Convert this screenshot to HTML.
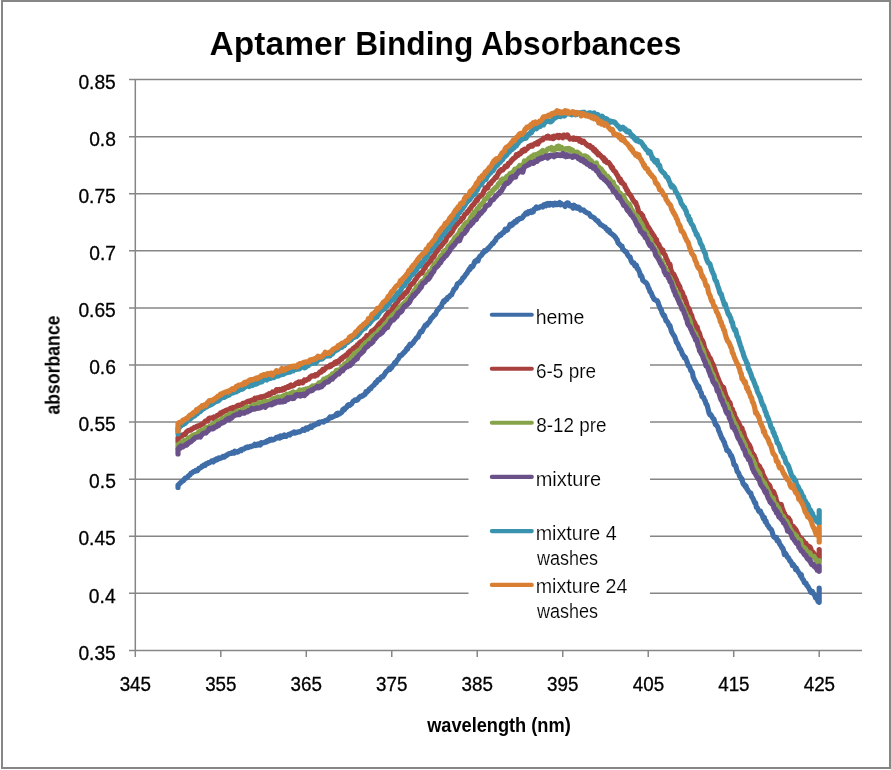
<!DOCTYPE html>
<html><head><meta charset="utf-8"><style>
html,body{margin:0;padding:0;background:#fff;}
body{width:891px;height:770px;overflow:hidden;}
svg{display:block;}
text{font-family:"Liberation Sans",sans-serif;fill:#000;}
.t{filter:grayscale(1);}
.t text{stroke:none;}
.lg text{stroke:#fff;stroke-width:0.15px;}
.ax text{stroke:#000;stroke-width:0.3px;}
.t text.ttl{stroke:#fff;stroke-width:0.6px;}
.t text[font-weight="bold"]{stroke-width:0.1px;}
</style></head><body>
<svg width="891" height="770" viewBox="0 0 891 770">
<rect x="0" y="0" width="891" height="770" fill="#fff"/>
<rect x="2" y="1" width="888" height="767" fill="#fff" stroke="#868686" stroke-width="2"/>
<g stroke="#868686" stroke-width="1.5">
<line x1="129" y1="79.60" x2="862" y2="79.60"/>
<line x1="129" y1="136.68" x2="862" y2="136.68"/>
<line x1="129" y1="193.76" x2="862" y2="193.76"/>
<line x1="129" y1="250.84" x2="862" y2="250.84"/>
<line x1="129" y1="307.92" x2="862" y2="307.92"/>
<line x1="129" y1="365.00" x2="862" y2="365.00"/>
<line x1="129" y1="422.08" x2="862" y2="422.08"/>
<line x1="129" y1="479.16" x2="862" y2="479.16"/>
<line x1="129" y1="536.24" x2="862" y2="536.24"/>
<line x1="129" y1="593.32" x2="862" y2="593.32"/>
<line x1="135.3" y1="79.6" x2="135.3" y2="651.1"/>
<line x1="129" y1="650.4" x2="862" y2="650.4"/>
<line x1="135.30" y1="650.4" x2="135.30" y2="657"/>
<line x1="220.79" y1="650.4" x2="220.79" y2="657"/>
<line x1="306.28" y1="650.4" x2="306.28" y2="657"/>
<line x1="391.76" y1="650.4" x2="391.76" y2="657"/>
<line x1="477.25" y1="650.4" x2="477.25" y2="657"/>
<line x1="562.74" y1="650.4" x2="562.74" y2="657"/>
<line x1="648.23" y1="650.4" x2="648.23" y2="657"/>
<line x1="733.71" y1="650.4" x2="733.71" y2="657"/>
<line x1="819.20" y1="650.4" x2="819.20" y2="657"/>
</g>
<rect x="468.5" y="283" width="181.5" height="345" fill="#fff"/>
<g fill="none" stroke-width="5.2" stroke-linejoin="round" stroke-linecap="round">
<path d="M178.0 487.5 L178.0 485.1 L178.8 484.5 L179.6 483.7 L180.4 482.8 L181.2 482.3 L182.0 481.4 L182.8 480.7 L183.6 480.6 L184.4 479.0 L185.2 478.2 L186.0 478.1 L186.8 477.7 L187.6 477.1 L188.4 475.7 L189.2 475.5 L190.0 474.9 L190.8 473.3 L191.6 473.3 L192.4 472.4 L193.2 472.0 L194.0 471.3 L194.8 471.5 L195.6 470.5 L196.4 471.0 L197.2 470.8 L198.0 470.0 L198.8 468.4 L199.6 468.4 L200.4 467.9 L201.2 467.4 L202.0 466.2 L202.8 466.3 L203.6 465.3 L204.4 465.0 L205.2 465.4 L206.0 463.7 L206.8 463.5 L207.6 463.6 L208.4 462.6 L209.2 462.8 L210.0 462.4 L210.8 461.9 L211.6 461.0 L212.4 461.4 L213.2 461.9 L214.0 460.1 L214.8 460.8 L215.6 459.9 L216.4 458.9 L217.2 459.8 L218.0 459.0 L218.8 457.9 L219.6 458.5 L220.4 458.5 L221.2 457.7 L222.0 457.6 L222.8 456.6 L223.6 457.2 L224.4 457.2 L225.2 455.9 L226.0 456.0 L226.8 454.9 L227.6 455.0 L228.4 454.0 L229.2 453.7 L230.0 453.4 L230.8 453.4 L231.6 453.4 L232.4 452.4 L233.2 452.5 L234.0 453.1 L234.8 451.2 L235.6 451.6 L236.4 451.8 L237.2 452.2 L238.0 451.9 L238.8 451.0 L239.6 450.6 L240.4 450.0 L241.2 450.6 L242.0 449.4 L242.8 449.0 L243.6 449.1 L244.4 448.7 L245.2 448.2 L246.0 447.4 L246.8 447.7 L247.6 446.9 L248.4 447.5 L249.2 447.1 L250.0 446.4 L250.8 446.6 L251.6 446.0 L252.4 446.1 L253.2 445.5 L254.0 445.4 L254.8 444.3 L255.6 445.5 L256.4 444.6 L257.2 444.3 L258.0 444.9 L258.8 443.9 L259.6 443.8 L260.4 444.9 L261.2 442.7 L262.0 442.8 L262.8 442.9 L263.6 442.8 L264.4 442.5 L265.2 441.9 L266.0 442.2 L266.8 441.7 L267.6 440.6 L268.4 441.1 L269.2 440.8 L270.0 439.4 L270.8 440.0 L271.6 439.2 L272.4 440.1 L273.2 439.9 L274.0 439.6 L274.8 438.8 L275.6 438.6 L276.4 437.3 L277.2 437.6 L278.0 437.9 L278.8 436.8 L279.6 438.0 L280.4 435.9 L281.2 437.5 L282.0 436.2 L282.8 436.6 L283.6 436.2 L284.4 435.0 L285.2 436.5 L286.0 436.5 L286.8 435.6 L287.6 435.2 L288.4 434.7 L289.2 434.1 L290.0 434.9 L290.8 433.5 L291.6 433.5 L292.4 432.8 L293.2 432.7 L294.0 432.0 L294.8 433.1 L295.6 432.3 L296.4 432.7 L297.2 432.2 L298.0 431.9 L298.8 431.7 L299.6 431.8 L300.4 431.4 L301.2 430.9 L302.0 430.4 L302.8 429.5 L303.6 430.0 L304.4 430.4 L305.2 428.8 L306.0 428.0 L306.8 428.3 L307.6 429.1 L308.4 427.5 L309.2 427.8 L310.0 427.2 L310.8 426.1 L311.6 427.3 L312.4 426.0 L313.2 425.7 L314.0 424.8 L314.8 425.1 L315.6 424.6 L316.4 424.2 L317.2 423.6 L318.0 422.8 L318.8 423.6 L319.6 422.1 L320.4 422.1 L321.2 421.9 L322.0 421.7 L322.8 421.6 L323.6 422.1 L324.4 421.1 L325.2 420.5 L326.0 420.4 L326.8 420.6 L327.6 419.8 L328.4 419.2 L329.2 418.1 L330.0 417.0 L330.8 417.8 L331.6 417.6 L332.4 416.5 L333.2 416.5 L334.0 416.2 L334.8 415.7 L335.6 415.4 L336.4 414.0 L337.2 415.2 L338.0 413.2 L338.8 414.2 L339.6 413.8 L340.4 413.0 L341.2 412.8 L342.0 411.8 L342.8 409.6 L343.6 409.0 L344.4 409.9 L345.2 407.8 L346.0 407.8 L346.8 407.2 L347.6 405.4 L348.4 404.8 L349.2 405.5 L350.0 405.2 L350.8 404.4 L351.6 403.8 L352.4 402.5 L353.2 401.3 L354.0 401.0 L354.8 400.0 L355.6 399.8 L356.4 400.3 L357.2 400.0 L358.0 399.5 L358.8 397.8 L359.6 397.5 L360.4 396.4 L361.2 396.3 L362.0 396.5 L362.8 395.4 L363.6 395.4 L364.4 394.3 L365.2 394.3 L366.0 391.6 L366.8 392.3 L367.6 391.2 L368.4 390.8 L369.2 388.9 L370.0 388.4 L370.8 388.6 L371.6 386.9 L372.4 386.5 L373.2 385.5 L374.0 385.1 L374.8 383.7 L375.6 382.4 L376.4 382.8 L377.2 381.3 L378.0 379.6 L378.8 379.7 L379.6 379.9 L380.4 378.4 L381.2 376.9 L382.0 376.6 L382.8 376.9 L383.6 375.6 L384.4 374.6 L385.2 373.1 L386.0 372.0 L386.8 371.1 L387.6 370.6 L388.4 369.7 L389.2 368.4 L390.0 369.4 L390.8 367.9 L391.6 367.9 L392.4 365.8 L393.2 365.4 L394.0 364.1 L394.8 362.5 L395.6 363.1 L396.4 361.4 L397.2 359.9 L398.0 359.4 L398.8 358.0 L399.6 355.6 L400.4 356.0 L401.2 355.5 L402.0 354.9 L402.8 353.3 L403.6 353.2 L404.4 351.8 L405.2 351.6 L406.0 350.0 L406.8 348.6 L407.6 349.1 L408.4 346.7 L409.2 345.8 L410.0 344.2 L410.8 345.3 L411.6 344.0 L412.4 343.6 L413.2 342.9 L414.0 341.1 L414.8 340.4 L415.6 339.3 L416.4 338.0 L417.2 337.5 L418.0 337.3 L418.8 335.0 L419.6 333.4 L420.4 331.9 L421.2 331.1 L422.0 331.5 L422.8 329.8 L423.6 328.3 L424.4 326.9 L425.2 325.3 L426.0 325.0 L426.8 325.1 L427.6 323.4 L428.4 322.8 L429.2 321.9 L430.0 320.9 L430.8 318.7 L431.6 318.3 L432.4 317.0 L433.2 316.7 L434.0 315.1 L434.8 314.9 L435.6 314.1 L436.4 312.1 L437.2 310.4 L438.0 309.9 L438.8 308.8 L439.6 307.5 L440.4 307.3 L441.2 306.7 L442.0 304.2 L442.8 302.5 L443.6 301.1 L444.4 301.7 L445.2 300.0 L446.0 299.3 L446.8 299.5 L447.6 297.3 L448.4 297.4 L449.2 297.0 L450.0 295.6 L450.8 295.0 L451.6 295.0 L452.4 292.7 L453.2 291.3 L454.0 289.3 L454.8 288.7 L455.6 288.2 L456.4 286.8 L457.2 284.2 L458.0 283.4 L458.8 282.9 L459.6 282.9 L460.4 281.6 L461.2 280.8 L462.0 279.8 L462.8 277.9 L463.6 277.6 L464.4 276.6 L465.2 275.3 L466.0 274.1 L466.8 273.5 L467.6 271.9 L468.4 270.8 L469.2 268.9 L470.0 269.4 L470.8 266.8 L471.6 266.3 L472.4 266.8 L473.2 265.8 L474.0 263.8 L474.8 261.4 L475.6 261.9 L476.4 260.2 L477.2 260.5 L478.0 260.9 L478.8 258.2 L479.6 256.9 L480.4 255.8 L481.2 255.6 L482.0 254.6 L482.8 252.8 L483.6 252.7 L484.4 250.7 L485.2 251.2 L486.0 250.8 L486.8 250.1 L487.6 248.6 L488.4 248.4 L489.2 247.3 L490.0 246.4 L490.8 245.6 L491.6 244.6 L492.4 243.4 L493.2 243.6 L494.0 242.1 L494.8 240.8 L495.6 240.6 L496.4 237.9 L497.2 237.4 L498.0 237.1 L498.8 236.1 L499.6 235.0 L500.4 235.4 L501.2 234.8 L502.0 233.3 L502.8 232.7 L503.6 232.6 L504.4 231.5 L505.2 229.1 L506.0 230.7 L506.8 230.2 L507.6 229.9 L508.4 227.7 L509.2 226.6 L510.0 224.5 L510.8 226.0 L511.6 224.2 L512.4 225.0 L513.2 222.9 L514.0 223.2 L514.8 221.4 L515.6 221.4 L516.4 221.9 L517.2 219.6 L518.0 220.2 L518.8 219.4 L519.6 218.4 L520.4 218.6 L521.2 218.3 L522.0 218.2 L522.8 217.2 L523.6 215.7 L524.4 215.2 L525.2 213.9 L526.0 212.9 L526.8 213.9 L527.6 214.0 L528.4 211.6 L529.2 212.6 L530.0 211.7 L530.8 211.1 L531.6 212.4 L532.4 211.0 L533.2 211.9 L534.0 209.2 L534.8 209.2 L535.6 208.0 L536.4 206.9 L537.2 208.2 L538.0 207.8 L538.8 208.0 L539.6 207.2 L540.4 206.7 L541.2 206.6 L542.0 206.2 L542.8 207.0 L543.6 205.0 L544.4 205.3 L545.2 204.4 L546.0 205.7 L546.8 203.9 L547.6 203.5 L548.4 204.5 L549.2 205.1 L550.0 203.4 L550.8 203.5 L551.6 204.2 L552.4 203.8 L553.2 205.0 L554.0 204.2 L554.8 203.3 L555.6 204.6 L556.4 203.5 L557.2 204.6 L558.0 203.8 L558.8 203.3 L559.6 202.5 L560.4 204.8 L561.2 203.5 L562.0 204.5 L562.8 204.6 L563.6 205.0 L564.4 205.3 L565.2 206.4 L566.0 203.9 L566.8 203.1 L567.6 202.8 L568.4 203.2 L569.2 205.0 L570.0 205.9 L570.8 205.5 L571.6 205.5 L572.4 207.0 L573.2 208.1 L574.0 205.2 L574.8 207.4 L575.6 206.3 L576.4 208.0 L577.2 206.9 L578.0 208.2 L578.8 207.2 L579.6 208.2 L580.4 210.0 L581.2 209.6 L582.0 209.9 L582.8 209.9 L583.6 210.1 L584.4 211.1 L585.2 211.9 L586.0 212.2 L586.8 212.7 L587.6 213.0 L588.4 213.2 L589.2 213.7 L590.0 215.1 L590.8 216.5 L591.6 216.4 L592.4 216.9 L593.2 217.5 L594.0 217.7 L594.8 218.7 L595.6 219.8 L596.4 220.1 L597.2 221.0 L598.0 220.9 L598.8 222.7 L599.6 223.3 L600.4 224.5 L601.2 225.0 L602.0 225.2 L602.8 225.9 L603.6 226.5 L604.4 226.9 L605.2 227.1 L606.0 228.8 L606.8 229.0 L607.6 230.6 L608.4 231.3 L609.2 230.3 L610.0 232.6 L610.8 233.2 L611.6 233.7 L612.4 234.4 L613.2 235.2 L614.0 235.4 L614.8 236.8 L615.6 237.4 L616.4 239.1 L617.2 239.7 L618.0 242.8 L618.8 243.7 L619.6 244.3 L620.4 245.2 L621.2 246.3 L622.0 246.1 L622.8 249.4 L623.6 249.9 L624.4 250.7 L625.2 251.6 L626.0 251.5 L626.8 253.1 L627.6 254.8 L628.4 255.9 L629.2 256.9 L630.0 256.8 L630.8 259.7 L631.6 261.8 L632.4 262.9 L633.2 262.8 L634.0 262.8 L634.8 265.8 L635.6 265.8 L636.4 265.2 L637.2 268.6 L638.0 268.6 L638.8 270.6 L639.6 272.3 L640.4 275.9 L641.2 275.4 L642.0 277.0 L642.8 280.4 L643.6 281.1 L644.4 281.6 L645.2 282.2 L646.0 282.6 L646.8 283.8 L647.6 285.2 L648.4 287.8 L649.2 288.9 L650.0 291.8 L650.8 292.3 L651.6 293.8 L652.4 296.1 L653.2 297.4 L654.0 299.4 L654.8 299.6 L655.6 299.9 L656.4 300.8 L657.2 300.7 L658.0 302.1 L658.8 305.0 L659.6 306.6 L660.4 308.9 L661.2 309.5 L662.0 312.7 L662.8 314.1 L663.6 315.8 L664.4 315.5 L665.2 318.0 L666.0 320.8 L666.8 321.2 L667.6 322.2 L668.4 323.9 L669.2 325.8 L670.0 325.6 L670.8 329.1 L671.6 331.7 L672.4 333.1 L673.2 334.6 L674.0 335.6 L674.8 337.0 L675.6 339.6 L676.4 342.2 L677.2 342.9 L678.0 344.7 L678.8 346.3 L679.6 348.9 L680.4 349.2 L681.2 350.8 L682.0 353.0 L682.8 355.1 L683.6 355.5 L684.4 357.8 L685.2 357.2 L686.0 359.3 L686.8 361.0 L687.6 363.7 L688.4 365.8 L689.2 366.1 L690.0 367.9 L690.8 370.6 L691.6 371.2 L692.4 372.4 L693.2 377.0 L694.0 378.8 L694.8 380.8 L695.6 381.9 L696.4 383.8 L697.2 384.8 L698.0 387.5 L698.8 386.3 L699.6 389.4 L700.4 391.9 L701.2 392.8 L702.0 396.6 L702.8 397.1 L703.6 397.4 L704.4 399.8 L705.2 400.9 L706.0 403.9 L706.8 404.4 L707.6 407.1 L708.4 410.4 L709.2 413.5 L710.0 414.8 L710.8 414.7 L711.6 415.9 L712.4 417.5 L713.2 418.6 L714.0 419.2 L714.8 422.6 L715.6 424.9 L716.4 424.9 L717.2 426.1 L718.0 427.7 L718.8 430.9 L719.6 432.1 L720.4 434.6 L721.2 436.5 L722.0 438.4 L722.8 439.2 L723.6 441.3 L724.4 442.4 L725.2 445.6 L726.0 446.9 L726.8 450.3 L727.6 450.7 L728.4 450.7 L729.2 452.1 L730.0 453.5 L730.8 455.8 L731.6 455.7 L732.4 458.4 L733.2 460.7 L734.0 464.7 L734.8 464.8 L735.6 465.9 L736.4 468.4 L737.2 471.7 L738.0 472.1 L738.8 473.5 L739.6 476.2 L740.4 476.8 L741.2 479.1 L742.0 478.9 L742.8 482.8 L743.6 484.5 L744.4 484.4 L745.2 486.6 L746.0 486.0 L746.8 488.9 L747.6 489.7 L748.4 491.2 L749.2 492.3 L750.0 492.9 L750.8 493.1 L751.6 496.6 L752.4 497.5 L753.2 499.0 L754.0 501.0 L754.8 503.0 L755.6 502.9 L756.4 507.5 L757.2 507.5 L758.0 509.4 L758.8 511.4 L759.6 510.8 L760.4 511.0 L761.2 513.9 L762.0 514.3 L762.8 517.1 L763.6 518.8 L764.4 517.5 L765.2 521.8 L766.0 520.9 L766.8 523.7 L767.6 525.2 L768.4 525.9 L769.2 527.7 L770.0 528.6 L770.8 529.2 L771.6 530.2 L772.4 532.7 L773.2 535.8 L774.0 537.0 L774.8 537.4 L775.6 538.4 L776.4 537.4 L777.2 540.9 L778.0 540.3 L778.8 541.4 L779.6 543.9 L780.4 545.1 L781.2 545.9 L782.0 548.1 L782.8 548.0 L783.6 550.8 L784.4 554.7 L785.2 553.1 L786.0 554.2 L786.8 555.9 L787.6 557.5 L788.4 557.5 L789.2 559.5 L790.0 561.1 L790.8 561.3 L791.6 563.0 L792.4 565.4 L793.2 564.3 L794.0 566.2 L794.8 566.4 L795.6 569.5 L796.4 568.2 L797.2 570.3 L798.0 571.4 L798.8 572.8 L799.6 573.5 L800.4 575.8 L801.2 574.4 L802.0 578.2 L802.8 579.4 L803.6 580.2 L804.4 582.6 L805.2 583.2 L806.0 583.2 L806.8 585.5 L807.6 586.0 L808.4 587.4 L809.2 588.9 L810.0 590.3 L810.8 592.3 L811.6 591.2 L812.4 591.5 L813.2 593.3 L814.0 594.4 L814.8 595.5 L815.6 598.0 L816.4 598.3 L817.2 598.3 L818.0 601.5 L818.8 601.7 L819.2 602.3 L819.2 600.5 L819.2 588.0 L819.2 596.0" stroke="#3E6DA8"/>
<path d="M178.0 442.0 L178.0 437.5 L178.8 437.2 L179.6 437.4 L180.4 436.0 L181.2 435.6 L182.0 435.9 L182.8 434.8 L183.6 434.7 L184.4 434.4 L185.2 434.5 L186.0 432.5 L186.8 431.7 L187.6 431.2 L188.4 430.5 L189.2 430.3 L190.0 430.2 L190.8 430.1 L191.6 429.1 L192.4 428.9 L193.2 428.5 L194.0 427.6 L194.8 427.3 L195.6 427.5 L196.4 426.7 L197.2 426.1 L198.0 426.3 L198.8 425.5 L199.6 425.7 L200.4 425.4 L201.2 424.3 L202.0 424.3 L202.8 424.2 L203.6 422.9 L204.4 422.5 L205.2 421.3 L206.0 421.0 L206.8 420.6 L207.6 421.0 L208.4 419.1 L209.2 418.2 L210.0 418.0 L210.8 418.1 L211.6 417.9 L212.4 417.8 L213.2 418.4 L214.0 417.1 L214.8 417.9 L215.6 417.2 L216.4 416.6 L217.2 415.4 L218.0 415.4 L218.8 414.7 L219.6 414.7 L220.4 413.0 L221.2 413.9 L222.0 412.7 L222.8 411.9 L223.6 411.8 L224.4 411.2 L225.2 411.1 L226.0 410.2 L226.8 410.0 L227.6 410.6 L228.4 410.0 L229.2 409.1 L230.0 408.6 L230.8 408.0 L231.6 408.3 L232.4 408.9 L233.2 407.5 L234.0 408.4 L234.8 407.9 L235.6 406.9 L236.4 407.0 L237.2 405.8 L238.0 405.5 L238.8 405.2 L239.6 405.4 L240.4 405.0 L241.2 404.7 L242.0 404.9 L242.8 403.5 L243.6 404.6 L244.4 403.1 L245.2 403.2 L246.0 403.0 L246.8 401.7 L247.6 401.5 L248.4 401.2 L249.2 401.1 L250.0 401.5 L250.8 400.8 L251.6 400.1 L252.4 400.2 L253.2 399.6 L254.0 400.2 L254.8 398.2 L255.6 399.8 L256.4 398.8 L257.2 397.8 L258.0 398.1 L258.8 397.7 L259.6 397.2 L260.4 397.3 L261.2 396.6 L262.0 397.3 L262.8 396.7 L263.6 396.4 L264.4 396.7 L265.2 395.9 L266.0 396.0 L266.8 395.0 L267.6 395.3 L268.4 395.2 L269.2 393.7 L270.0 394.6 L270.8 393.8 L271.6 393.0 L272.4 392.0 L273.2 392.5 L274.0 392.6 L274.8 392.0 L275.6 391.4 L276.4 389.7 L277.2 390.9 L278.0 389.8 L278.8 390.6 L279.6 389.4 L280.4 390.4 L281.2 389.9 L282.0 390.2 L282.8 388.5 L283.6 388.5 L284.4 389.4 L285.2 387.6 L286.0 387.7 L286.8 387.6 L287.6 386.8 L288.4 387.4 L289.2 387.1 L290.0 385.7 L290.8 385.1 L291.6 386.1 L292.4 386.1 L293.2 385.6 L294.0 385.3 L294.8 384.4 L295.6 384.1 L296.4 382.9 L297.2 382.7 L298.0 383.2 L298.8 382.0 L299.6 383.2 L300.4 382.0 L301.2 381.8 L302.0 382.2 L302.8 382.8 L303.6 381.4 L304.4 379.9 L305.2 380.6 L306.0 380.5 L306.8 379.6 L307.6 379.1 L308.4 379.2 L309.2 378.5 L310.0 376.9 L310.8 376.8 L311.6 375.8 L312.4 375.9 L313.2 375.6 L314.0 376.0 L314.8 376.2 L315.6 374.7 L316.4 375.2 L317.2 375.1 L318.0 374.0 L318.8 373.4 L319.6 372.4 L320.4 371.6 L321.2 372.1 L322.0 370.7 L322.8 369.4 L323.6 370.4 L324.4 369.3 L325.2 368.9 L326.0 367.5 L326.8 367.0 L327.6 366.9 L328.4 366.6 L329.2 366.9 L330.0 365.3 L330.8 366.2 L331.6 364.7 L332.4 364.2 L333.2 364.5 L334.0 363.6 L334.8 362.4 L335.6 363.5 L336.4 361.7 L337.2 361.8 L338.0 361.4 L338.8 361.6 L339.6 359.9 L340.4 359.9 L341.2 358.5 L342.0 358.8 L342.8 357.1 L343.6 356.6 L344.4 356.8 L345.2 355.7 L346.0 354.9 L346.8 355.4 L347.6 354.1 L348.4 352.4 L349.2 352.6 L350.0 351.0 L350.8 351.6 L351.6 351.6 L352.4 349.6 L353.2 348.5 L354.0 348.2 L354.8 347.3 L355.6 346.8 L356.4 347.4 L357.2 345.0 L358.0 345.3 L358.8 343.9 L359.6 342.7 L360.4 343.1 L361.2 341.4 L362.0 342.0 L362.8 341.3 L363.6 340.0 L364.4 338.9 L365.2 338.3 L366.0 338.0 L366.8 335.7 L367.6 335.8 L368.4 335.6 L369.2 335.1 L370.0 335.0 L370.8 332.8 L371.6 331.1 L372.4 331.7 L373.2 330.5 L374.0 330.2 L374.8 329.0 L375.6 328.7 L376.4 327.6 L377.2 326.7 L378.0 325.4 L378.8 324.3 L379.6 323.7 L380.4 322.6 L381.2 322.3 L382.0 320.7 L382.8 320.8 L383.6 319.1 L384.4 318.5 L385.2 316.9 L386.0 315.4 L386.8 315.4 L387.6 313.6 L388.4 312.0 L389.2 311.8 L390.0 312.1 L390.8 312.6 L391.6 310.8 L392.4 309.9 L393.2 306.9 L394.0 306.3 L394.8 305.2 L395.6 304.9 L396.4 302.4 L397.2 302.4 L398.0 301.2 L398.8 299.3 L399.6 298.8 L400.4 297.8 L401.2 295.9 L402.0 297.2 L402.8 296.7 L403.6 295.0 L404.4 293.6 L405.2 293.7 L406.0 292.3 L406.8 292.1 L407.6 291.1 L408.4 289.0 L409.2 288.3 L410.0 285.9 L410.8 284.9 L411.6 284.3 L412.4 283.3 L413.2 283.3 L414.0 282.1 L414.8 280.4 L415.6 279.4 L416.4 278.7 L417.2 276.5 L418.0 276.1 L418.8 275.0 L419.6 274.2 L420.4 273.5 L421.2 272.6 L422.0 273.1 L422.8 271.3 L423.6 269.6 L424.4 267.4 L425.2 268.0 L426.0 265.9 L426.8 264.6 L427.6 264.3 L428.4 263.1 L429.2 262.6 L430.0 261.0 L430.8 261.1 L431.6 258.0 L432.4 258.3 L433.2 256.2 L434.0 256.6 L434.8 254.5 L435.6 252.8 L436.4 251.8 L437.2 251.2 L438.0 248.9 L438.8 248.4 L439.6 246.9 L440.4 247.0 L441.2 245.8 L442.0 244.8 L442.8 244.0 L443.6 242.8 L444.4 241.6 L445.2 241.4 L446.0 240.2 L446.8 236.6 L447.6 236.5 L448.4 235.4 L449.2 235.4 L450.0 233.8 L450.8 233.5 L451.6 232.0 L452.4 231.6 L453.2 229.5 L454.0 228.1 L454.8 227.1 L455.6 225.8 L456.4 224.4 L457.2 224.5 L458.0 223.2 L458.8 222.1 L459.6 221.8 L460.4 221.1 L461.2 219.0 L462.0 218.1 L462.8 218.3 L463.6 217.3 L464.4 215.3 L465.2 213.9 L466.0 213.7 L466.8 213.1 L467.6 211.3 L468.4 211.3 L469.2 209.6 L470.0 208.4 L470.8 208.2 L471.6 206.4 L472.4 205.4 L473.2 204.8 L474.0 203.9 L474.8 202.6 L475.6 201.5 L476.4 199.7 L477.2 200.6 L478.0 198.7 L478.8 197.1 L479.6 196.8 L480.4 196.3 L481.2 195.2 L482.0 195.2 L482.8 193.9 L483.6 191.5 L484.4 190.6 L485.2 188.0 L486.0 188.2 L486.8 187.4 L487.6 188.1 L488.4 185.7 L489.2 183.7 L490.0 183.7 L490.8 183.6 L491.6 181.8 L492.4 180.9 L493.2 180.3 L494.0 179.4 L494.8 178.2 L495.6 177.1 L496.4 177.4 L497.2 175.5 L498.0 174.2 L498.8 172.1 L499.6 171.0 L500.4 171.3 L501.2 169.8 L502.0 170.3 L502.8 170.1 L503.6 168.6 L504.4 167.8 L505.2 166.1 L506.0 166.9 L506.8 166.6 L507.6 165.7 L508.4 163.4 L509.2 163.0 L510.0 162.7 L510.8 161.8 L511.6 160.1 L512.4 160.1 L513.2 158.5 L514.0 158.3 L514.8 157.7 L515.6 157.1 L516.4 154.6 L517.2 155.6 L518.0 155.4 L518.8 153.7 L519.6 153.1 L520.4 153.8 L521.2 152.7 L522.0 150.6 L522.8 151.7 L523.6 150.0 L524.4 149.2 L525.2 150.7 L526.0 149.4 L526.8 148.8 L527.6 148.5 L528.4 146.7 L529.2 146.1 L530.0 146.4 L530.8 145.5 L531.6 145.1 L532.4 146.1 L533.2 145.0 L534.0 144.5 L534.8 143.7 L535.6 143.8 L536.4 144.0 L537.2 142.5 L538.0 144.0 L538.8 141.5 L539.6 141.6 L540.4 140.6 L541.2 140.3 L542.0 140.1 L542.8 139.8 L543.6 138.2 L544.4 138.2 L545.2 138.0 L546.0 137.9 L546.8 136.7 L547.6 137.8 L548.4 136.3 L549.2 137.7 L550.0 138.2 L550.8 137.7 L551.6 137.5 L552.4 136.8 L553.2 138.6 L554.0 136.2 L554.8 137.7 L555.6 137.1 L556.4 136.1 L557.2 135.5 L558.0 137.2 L558.8 137.6 L559.6 135.5 L560.4 136.1 L561.2 136.4 L562.0 135.9 L562.8 137.8 L563.6 135.1 L564.4 136.2 L565.2 135.4 L566.0 136.9 L566.8 136.5 L567.6 135.1 L568.4 136.9 L569.2 137.9 L570.0 139.0 L570.8 138.3 L571.6 138.4 L572.4 138.4 L573.2 139.3 L574.0 138.1 L574.8 139.0 L575.6 139.4 L576.4 138.6 L577.2 139.3 L578.0 139.8 L578.8 138.8 L579.6 141.2 L580.4 140.0 L581.2 141.7 L582.0 142.3 L582.8 141.4 L583.6 141.1 L584.4 142.3 L585.2 143.1 L586.0 144.3 L586.8 144.4 L587.6 145.7 L588.4 145.3 L589.2 146.3 L590.0 145.7 L590.8 147.5 L591.6 147.3 L592.4 147.4 L593.2 149.6 L594.0 150.6 L594.8 149.4 L595.6 152.0 L596.4 151.3 L597.2 153.3 L598.0 154.7 L598.8 153.6 L599.6 155.1 L600.4 155.3 L601.2 156.3 L602.0 157.3 L602.8 158.4 L603.6 157.7 L604.4 161.0 L605.2 159.5 L606.0 161.1 L606.8 162.5 L607.6 162.2 L608.4 162.3 L609.2 163.2 L610.0 164.3 L610.8 165.9 L611.6 167.7 L612.4 167.3 L613.2 169.8 L614.0 170.7 L614.8 171.4 L615.6 172.0 L616.4 174.0 L617.2 175.0 L618.0 176.4 L618.8 178.3 L619.6 180.5 L620.4 179.0 L621.2 182.6 L622.0 182.0 L622.8 183.4 L623.6 184.3 L624.4 184.5 L625.2 187.2 L626.0 188.2 L626.8 190.3 L627.6 190.8 L628.4 193.6 L629.2 193.6 L630.0 194.9 L630.8 195.9 L631.6 197.2 L632.4 198.9 L633.2 200.1 L634.0 201.3 L634.8 202.4 L635.6 202.4 L636.4 204.9 L637.2 206.4 L638.0 209.3 L638.8 212.6 L639.6 213.2 L640.4 213.3 L641.2 213.8 L642.0 215.1 L642.8 215.7 L643.6 219.4 L644.4 219.7 L645.2 221.9 L646.0 222.7 L646.8 224.6 L647.6 227.5 L648.4 227.1 L649.2 228.6 L650.0 229.7 L650.8 231.9 L651.6 232.2 L652.4 233.6 L653.2 234.9 L654.0 235.8 L654.8 238.0 L655.6 241.0 L656.4 239.3 L657.2 242.6 L658.0 243.9 L658.8 244.4 L659.6 246.7 L660.4 248.0 L661.2 249.1 L662.0 252.1 L662.8 249.9 L663.6 253.4 L664.4 254.1 L665.2 255.3 L666.0 257.9 L666.8 259.6 L667.6 261.0 L668.4 263.3 L669.2 264.4 L670.0 264.4 L670.8 269.6 L671.6 271.5 L672.4 273.0 L673.2 274.7 L674.0 274.5 L674.8 276.8 L675.6 278.1 L676.4 279.8 L677.2 282.4 L678.0 283.3 L678.8 285.8 L679.6 286.2 L680.4 289.2 L681.2 291.0 L682.0 291.8 L682.8 293.7 L683.6 297.6 L684.4 296.9 L685.2 299.6 L686.0 301.6 L686.8 304.7 L687.6 308.0 L688.4 307.8 L689.2 309.1 L690.0 311.6 L690.8 314.4 L691.6 315.0 L692.4 318.4 L693.2 320.3 L694.0 321.7 L694.8 323.2 L695.6 325.4 L696.4 328.0 L697.2 326.9 L698.0 330.8 L698.8 332.1 L699.6 333.5 L700.4 337.0 L701.2 339.2 L702.0 339.9 L702.8 341.5 L703.6 343.5 L704.4 347.4 L705.2 349.8 L706.0 350.5 L706.8 352.7 L707.6 353.3 L708.4 355.6 L709.2 357.4 L710.0 357.9 L710.8 359.5 L711.6 361.8 L712.4 363.5 L713.2 364.7 L714.0 367.5 L714.8 369.1 L715.6 372.4 L716.4 373.8 L717.2 376.1 L718.0 378.1 L718.8 380.4 L719.6 382.2 L720.4 383.7 L721.2 386.3 L722.0 386.2 L722.8 388.1 L723.6 387.5 L724.4 391.1 L725.2 393.4 L726.0 396.3 L726.8 397.5 L727.6 398.8 L728.4 401.3 L729.2 402.0 L730.0 402.7 L730.8 406.5 L731.6 408.8 L732.4 409.0 L733.2 412.3 L734.0 412.8 L734.8 416.2 L735.6 417.6 L736.4 418.9 L737.2 420.8 L738.0 421.6 L738.8 423.3 L739.6 425.1 L740.4 427.0 L741.2 428.7 L742.0 428.2 L742.8 432.6 L743.6 432.4 L744.4 435.7 L745.2 438.1 L746.0 439.8 L746.8 441.0 L747.6 442.8 L748.4 444.3 L749.2 444.7 L750.0 446.5 L750.8 448.3 L751.6 452.0 L752.4 453.0 L753.2 455.1 L754.0 455.1 L754.8 457.5 L755.6 459.0 L756.4 462.1 L757.2 464.1 L758.0 464.8 L758.8 465.8 L759.6 466.4 L760.4 469.8 L761.2 469.5 L762.0 470.8 L762.8 474.0 L763.6 475.7 L764.4 477.4 L765.2 478.5 L766.0 482.3 L766.8 482.2 L767.6 483.5 L768.4 484.3 L769.2 484.9 L770.0 486.5 L770.8 489.7 L771.6 490.9 L772.4 491.0 L773.2 491.4 L774.0 492.7 L774.8 495.3 L775.6 496.8 L776.4 500.6 L777.2 502.2 L778.0 505.3 L778.8 504.9 L779.6 504.9 L780.4 505.7 L781.2 504.5 L782.0 507.6 L782.8 509.6 L783.6 512.3 L784.4 513.2 L785.2 515.5 L786.0 516.2 L786.8 517.5 L787.6 519.5 L788.4 517.8 L789.2 519.8 L790.0 520.3 L790.8 524.7 L791.6 526.1 L792.4 526.9 L793.2 526.4 L794.0 527.7 L794.8 528.3 L795.6 529.3 L796.4 530.6 L797.2 532.8 L798.0 533.7 L798.8 536.4 L799.6 537.0 L800.4 537.7 L801.2 538.4 L802.0 539.2 L802.8 541.3 L803.6 541.1 L804.4 542.7 L805.2 543.7 L806.0 543.5 L806.8 546.6 L807.6 545.5 L808.4 546.5 L809.2 547.6 L810.0 546.9 L810.8 548.7 L811.6 551.1 L812.4 552.1 L813.2 552.3 L814.0 555.1 L814.8 554.6 L815.6 555.2 L816.4 555.8 L817.2 556.8 L818.0 557.0 L818.8 558.4 L819.2 559.1 L819.2 549.5 L819.2 556.0" stroke="#A8403E"/>
<path d="M178.0 448.0 L178.0 444.5 L178.8 444.4 L179.6 443.8 L180.4 443.2 L181.2 442.5 L182.0 442.5 L182.8 441.5 L183.6 440.8 L184.4 440.4 L185.2 440.6 L186.0 440.1 L186.8 440.2 L187.6 439.7 L188.4 437.8 L189.2 437.9 L190.0 437.5 L190.8 436.9 L191.6 436.1 L192.4 436.9 L193.2 435.5 L194.0 434.9 L194.8 434.5 L195.6 434.6 L196.4 434.6 L197.2 434.0 L198.0 432.9 L198.8 431.8 L199.6 431.6 L200.4 431.1 L201.2 431.0 L202.0 430.1 L202.8 430.3 L203.6 430.1 L204.4 429.4 L205.2 428.6 L206.0 427.6 L206.8 427.3 L207.6 427.3 L208.4 428.0 L209.2 427.6 L210.0 426.1 L210.8 426.4 L211.6 425.1 L212.4 425.3 L213.2 424.4 L214.0 423.5 L214.8 423.7 L215.6 422.7 L216.4 421.8 L217.2 421.1 L218.0 421.9 L218.8 421.4 L219.6 421.3 L220.4 420.3 L221.2 420.4 L222.0 418.6 L222.8 418.2 L223.6 418.8 L224.4 418.6 L225.2 418.1 L226.0 416.2 L226.8 416.5 L227.6 416.3 L228.4 415.1 L229.2 415.7 L230.0 413.8 L230.8 414.7 L231.6 413.7 L232.4 414.6 L233.2 414.0 L234.0 414.1 L234.8 413.3 L235.6 412.3 L236.4 411.5 L237.2 411.4 L238.0 410.8 L238.8 411.7 L239.6 412.1 L240.4 411.3 L241.2 410.4 L242.0 410.6 L242.8 409.3 L243.6 409.6 L244.4 408.6 L245.2 407.9 L246.0 407.6 L246.8 406.7 L247.6 407.4 L248.4 407.3 L249.2 407.8 L250.0 407.4 L250.8 406.4 L251.6 406.2 L252.4 406.5 L253.2 405.1 L254.0 404.9 L254.8 404.8 L255.6 404.9 L256.4 404.9 L257.2 404.8 L258.0 405.1 L258.8 402.6 L259.6 403.1 L260.4 402.9 L261.2 402.7 L262.0 402.7 L262.8 402.4 L263.6 403.0 L264.4 401.5 L265.2 401.7 L266.0 401.3 L266.8 401.4 L267.6 401.4 L268.4 401.6 L269.2 401.2 L270.0 400.9 L270.8 400.7 L271.6 399.6 L272.4 399.2 L273.2 398.7 L274.0 398.8 L274.8 398.4 L275.6 397.9 L276.4 398.7 L277.2 398.3 L278.0 396.9 L278.8 398.2 L279.6 397.0 L280.4 397.0 L281.2 397.5 L282.0 396.8 L282.8 396.1 L283.6 397.6 L284.4 395.5 L285.2 395.9 L286.0 395.7 L286.8 394.3 L287.6 394.9 L288.4 394.8 L289.2 396.1 L290.0 393.7 L290.8 393.3 L291.6 393.2 L292.4 392.4 L293.2 391.9 L294.0 392.8 L294.8 392.7 L295.6 392.9 L296.4 392.9 L297.2 392.3 L298.0 391.5 L298.8 391.5 L299.6 390.1 L300.4 390.6 L301.2 391.0 L302.0 390.1 L302.8 390.4 L303.6 389.7 L304.4 390.5 L305.2 390.7 L306.0 389.0 L306.8 389.3 L307.6 388.6 L308.4 389.0 L309.2 388.8 L310.0 388.0 L310.8 387.2 L311.6 386.9 L312.4 386.0 L313.2 386.8 L314.0 386.0 L314.8 386.8 L315.6 385.6 L316.4 385.8 L317.2 384.6 L318.0 384.3 L318.8 383.1 L319.6 383.6 L320.4 382.6 L321.2 382.3 L322.0 381.5 L322.8 381.2 L323.6 379.3 L324.4 380.3 L325.2 378.9 L326.0 379.7 L326.8 377.8 L327.6 377.7 L328.4 377.2 L329.2 378.7 L330.0 376.2 L330.8 376.1 L331.6 375.3 L332.4 373.9 L333.2 374.4 L334.0 374.3 L334.8 372.6 L335.6 372.1 L336.4 370.3 L337.2 370.6 L338.0 370.2 L338.8 370.4 L339.6 370.8 L340.4 369.2 L341.2 368.2 L342.0 367.2 L342.8 366.4 L343.6 366.3 L344.4 364.1 L345.2 363.7 L346.0 363.3 L346.8 362.8 L347.6 363.4 L348.4 359.8 L349.2 360.9 L350.0 360.3 L350.8 358.4 L351.6 357.3 L352.4 356.7 L353.2 356.2 L354.0 353.8 L354.8 353.5 L355.6 354.5 L356.4 354.0 L357.2 352.7 L358.0 350.8 L358.8 351.7 L359.6 350.5 L360.4 349.9 L361.2 348.0 L362.0 346.9 L362.8 345.6 L363.6 346.4 L364.4 345.6 L365.2 342.8 L366.0 342.6 L366.8 343.2 L367.6 341.4 L368.4 340.4 L369.2 340.4 L370.0 339.2 L370.8 338.3 L371.6 337.1 L372.4 336.3 L373.2 335.8 L374.0 335.9 L374.8 334.3 L375.6 334.0 L376.4 333.5 L377.2 333.0 L378.0 331.5 L378.8 330.2 L379.6 329.5 L380.4 328.9 L381.2 328.6 L382.0 327.7 L382.8 327.8 L383.6 326.8 L384.4 324.9 L385.2 323.8 L386.0 323.5 L386.8 322.4 L387.6 321.5 L388.4 319.7 L389.2 318.5 L390.0 318.4 L390.8 317.8 L391.6 317.0 L392.4 315.1 L393.2 315.8 L394.0 313.9 L394.8 313.5 L395.6 312.3 L396.4 311.1 L397.2 310.4 L398.0 309.0 L398.8 308.7 L399.6 307.2 L400.4 307.3 L401.2 306.0 L402.0 305.7 L402.8 304.6 L403.6 303.5 L404.4 303.3 L405.2 302.2 L406.0 301.8 L406.8 300.7 L407.6 299.2 L408.4 298.7 L409.2 297.6 L410.0 296.4 L410.8 295.9 L411.6 295.5 L412.4 293.6 L413.2 292.8 L414.0 290.7 L414.8 290.6 L415.6 289.1 L416.4 286.9 L417.2 287.7 L418.0 287.1 L418.8 285.2 L419.6 284.7 L420.4 282.9 L421.2 283.0 L422.0 281.1 L422.8 281.0 L423.6 281.6 L424.4 279.5 L425.2 278.1 L426.0 276.4 L426.8 274.6 L427.6 274.3 L428.4 273.6 L429.2 271.6 L430.0 271.3 L430.8 270.8 L431.6 270.2 L432.4 267.6 L433.2 266.5 L434.0 264.8 L434.8 264.6 L435.6 263.0 L436.4 262.5 L437.2 260.8 L438.0 259.8 L438.8 259.8 L439.6 258.4 L440.4 256.3 L441.2 255.7 L442.0 254.6 L442.8 253.9 L443.6 252.0 L444.4 250.9 L445.2 251.6 L446.0 250.4 L446.8 249.3 L447.6 247.7 L448.4 246.1 L449.2 246.2 L450.0 244.6 L450.8 244.1 L451.6 242.6 L452.4 241.7 L453.2 241.2 L454.0 239.1 L454.8 237.7 L455.6 236.8 L456.4 236.8 L457.2 235.1 L458.0 234.6 L458.8 233.3 L459.6 231.8 L460.4 229.8 L461.2 229.5 L462.0 228.7 L462.8 227.0 L463.6 226.1 L464.4 224.7 L465.2 223.7 L466.0 222.8 L466.8 222.6 L467.6 222.4 L468.4 221.5 L469.2 220.6 L470.0 219.0 L470.8 217.4 L471.6 216.3 L472.4 214.6 L473.2 215.3 L474.0 212.2 L474.8 212.6 L475.6 213.6 L476.4 210.7 L477.2 208.7 L478.0 208.3 L478.8 207.7 L479.6 205.6 L480.4 205.3 L481.2 204.4 L482.0 203.6 L482.8 204.6 L483.6 201.9 L484.4 199.9 L485.2 198.8 L486.0 198.8 L486.8 198.0 L487.6 197.1 L488.4 195.7 L489.2 193.8 L490.0 194.1 L490.8 193.5 L491.6 192.4 L492.4 190.7 L493.2 190.2 L494.0 189.0 L494.8 189.0 L495.6 187.3 L496.4 187.4 L497.2 186.6 L498.0 184.6 L498.8 183.5 L499.6 182.9 L500.4 183.1 L501.2 180.0 L502.0 180.8 L502.8 179.0 L503.6 179.4 L504.4 180.2 L505.2 178.9 L506.0 178.2 L506.8 176.4 L507.6 177.3 L508.4 175.8 L509.2 175.8 L510.0 173.4 L510.8 173.2 L511.6 174.2 L512.4 172.6 L513.2 171.7 L514.0 171.4 L514.8 169.2 L515.6 170.2 L516.4 169.8 L517.2 168.7 L518.0 167.5 L518.8 167.3 L519.6 165.5 L520.4 166.3 L521.2 166.2 L522.0 165.7 L522.8 164.7 L523.6 164.4 L524.4 161.0 L525.2 162.6 L526.0 161.9 L526.8 161.0 L527.6 160.2 L528.4 159.0 L529.2 158.2 L530.0 158.1 L530.8 158.5 L531.6 156.4 L532.4 155.9 L533.2 157.5 L534.0 154.9 L534.8 156.3 L535.6 154.7 L536.4 154.4 L537.2 155.7 L538.0 156.3 L538.8 153.3 L539.6 154.3 L540.4 152.1 L541.2 153.0 L542.0 151.7 L542.8 150.6 L543.6 152.0 L544.4 151.6 L545.2 151.7 L546.0 151.3 L546.8 150.0 L547.6 149.0 L548.4 148.9 L549.2 148.4 L550.0 148.3 L550.8 149.1 L551.6 147.5 L552.4 149.5 L553.2 149.1 L554.0 150.7 L554.8 148.8 L555.6 147.9 L556.4 148.3 L557.2 146.4 L558.0 147.3 L558.8 146.2 L559.6 148.9 L560.4 148.9 L561.2 147.1 L562.0 148.0 L562.8 149.1 L563.6 148.8 L564.4 149.9 L565.2 149.2 L566.0 148.5 L566.8 148.6 L567.6 149.2 L568.4 148.4 L569.2 148.6 L570.0 150.6 L570.8 149.3 L571.6 150.2 L572.4 150.0 L573.2 151.2 L574.0 152.7 L574.8 152.7 L575.6 153.7 L576.4 152.3 L577.2 152.0 L578.0 152.7 L578.8 153.5 L579.6 153.9 L580.4 155.8 L581.2 155.6 L582.0 155.8 L582.8 156.4 L583.6 156.0 L584.4 156.2 L585.2 155.9 L586.0 157.8 L586.8 156.7 L587.6 158.8 L588.4 157.9 L589.2 160.9 L590.0 159.9 L590.8 161.8 L591.6 161.0 L592.4 162.9 L593.2 164.5 L594.0 163.4 L594.8 164.5 L595.6 163.6 L596.4 162.9 L597.2 165.9 L598.0 167.0 L598.8 167.1 L599.6 169.5 L600.4 168.4 L601.2 168.9 L602.0 170.8 L602.8 171.3 L603.6 174.6 L604.4 173.0 L605.2 175.9 L606.0 176.7 L606.8 175.9 L607.6 176.2 L608.4 177.7 L609.2 178.2 L610.0 179.5 L610.8 181.5 L611.6 181.8 L612.4 182.0 L613.2 182.0 L614.0 185.6 L614.8 185.9 L615.6 187.4 L616.4 188.5 L617.2 188.0 L618.0 191.6 L618.8 192.7 L619.6 193.9 L620.4 193.4 L621.2 195.0 L622.0 195.4 L622.8 195.7 L623.6 196.1 L624.4 198.2 L625.2 199.9 L626.0 201.1 L626.8 202.3 L627.6 204.5 L628.4 204.6 L629.2 203.9 L630.0 205.8 L630.8 207.9 L631.6 210.2 L632.4 210.3 L633.2 212.5 L634.0 213.3 L634.8 215.4 L635.6 215.7 L636.4 215.7 L637.2 216.7 L638.0 218.8 L638.8 219.4 L639.6 220.6 L640.4 223.0 L641.2 223.1 L642.0 224.8 L642.8 226.3 L643.6 228.8 L644.4 230.2 L645.2 230.6 L646.0 232.1 L646.8 232.7 L647.6 236.5 L648.4 236.7 L649.2 238.9 L650.0 239.3 L650.8 239.5 L651.6 244.6 L652.4 244.6 L653.2 245.9 L654.0 247.3 L654.8 249.0 L655.6 250.4 L656.4 250.4 L657.2 253.5 L658.0 253.9 L658.8 255.9 L659.6 259.0 L660.4 260.7 L661.2 260.7 L662.0 260.7 L662.8 264.4 L663.6 265.6 L664.4 266.7 L665.2 267.9 L666.0 269.6 L666.8 270.6 L667.6 274.1 L668.4 275.5 L669.2 276.7 L670.0 277.4 L670.8 279.4 L671.6 281.3 L672.4 282.5 L673.2 284.2 L674.0 287.8 L674.8 288.4 L675.6 291.0 L676.4 291.9 L677.2 293.6 L678.0 293.6 L678.8 296.3 L679.6 299.6 L680.4 302.7 L681.2 304.0 L682.0 305.7 L682.8 306.2 L683.6 307.5 L684.4 309.7 L685.2 312.0 L686.0 313.2 L686.8 315.9 L687.6 316.4 L688.4 317.0 L689.2 319.2 L690.0 320.9 L690.8 324.1 L691.6 328.4 L692.4 329.2 L693.2 330.6 L694.0 332.2 L694.8 333.4 L695.6 333.5 L696.4 337.2 L697.2 337.6 L698.0 340.1 L698.8 342.8 L699.6 342.9 L700.4 345.4 L701.2 346.9 L702.0 348.5 L702.8 349.8 L703.6 352.2 L704.4 355.4 L705.2 358.1 L706.0 359.2 L706.8 361.3 L707.6 361.3 L708.4 363.1 L709.2 366.1 L710.0 367.7 L710.8 369.7 L711.6 373.2 L712.4 373.5 L713.2 374.9 L714.0 377.6 L714.8 380.5 L715.6 380.6 L716.4 383.2 L717.2 383.9 L718.0 386.1 L718.8 387.6 L719.6 390.3 L720.4 394.1 L721.2 393.3 L722.0 397.4 L722.8 396.7 L723.6 399.2 L724.4 401.6 L725.2 403.4 L726.0 404.2 L726.8 404.0 L727.6 407.4 L728.4 407.6 L729.2 412.5 L730.0 412.0 L730.8 414.7 L731.6 416.1 L732.4 418.5 L733.2 419.6 L734.0 423.3 L734.8 423.1 L735.6 425.0 L736.4 426.3 L737.2 428.2 L738.0 432.3 L738.8 432.8 L739.6 433.2 L740.4 436.3 L741.2 436.6 L742.0 438.7 L742.8 441.6 L743.6 441.6 L744.4 444.1 L745.2 445.0 L746.0 448.8 L746.8 450.4 L747.6 450.6 L748.4 452.0 L749.2 453.1 L750.0 455.6 L750.8 458.3 L751.6 457.2 L752.4 460.2 L753.2 460.4 L754.0 462.8 L754.8 463.9 L755.6 468.8 L756.4 468.8 L757.2 470.1 L758.0 471.1 L758.8 474.5 L759.6 473.2 L760.4 477.0 L761.2 480.7 L762.0 479.8 L762.8 481.5 L763.6 483.1 L764.4 482.7 L765.2 484.7 L766.0 487.4 L766.8 487.7 L767.6 490.1 L768.4 491.4 L769.2 493.0 L770.0 494.9 L770.8 497.3 L771.6 498.5 L772.4 499.0 L773.2 498.3 L774.0 502.1 L774.8 503.7 L775.6 504.2 L776.4 504.4 L777.2 506.5 L778.0 508.7 L778.8 508.1 L779.6 510.3 L780.4 513.1 L781.2 514.9 L782.0 515.5 L782.8 516.8 L783.6 516.7 L784.4 520.3 L785.2 520.6 L786.0 520.8 L786.8 521.5 L787.6 522.8 L788.4 525.8 L789.2 525.8 L790.0 528.5 L790.8 529.9 L791.6 531.0 L792.4 532.8 L793.2 533.7 L794.0 533.6 L794.8 534.5 L795.6 537.9 L796.4 535.9 L797.2 538.3 L798.0 540.3 L798.8 540.1 L799.6 540.7 L800.4 540.2 L801.2 543.4 L802.0 545.6 L802.8 547.1 L803.6 547.1 L804.4 549.5 L805.2 548.4 L806.0 550.2 L806.8 550.9 L807.6 552.1 L808.4 552.8 L809.2 553.6 L810.0 552.9 L810.8 555.6 L811.6 555.9 L812.4 556.4 L813.2 556.9 L814.0 556.5 L814.8 558.0 L815.6 559.3 L816.4 560.5 L817.2 561.8 L818.0 562.2 L818.8 562.9 L819.2 562.0 L819.2 560.5 L819.2 563.0" stroke="#86A34A"/>
<path d="M178.0 454.0 L178.0 449.0 L178.8 448.0 L179.6 447.1 L180.4 448.1 L181.2 446.0 L182.0 446.5 L182.8 446.9 L183.6 446.0 L184.4 446.0 L185.2 445.2 L186.0 444.4 L186.8 445.1 L187.6 443.4 L188.4 443.3 L189.2 442.3 L190.0 441.9 L190.8 442.0 L191.6 441.0 L192.4 440.4 L193.2 439.4 L194.0 439.2 L194.8 437.7 L195.6 437.5 L196.4 437.3 L197.2 437.0 L198.0 437.1 L198.8 436.8 L199.6 436.3 L200.4 436.9 L201.2 435.5 L202.0 434.7 L202.8 433.7 L203.6 433.3 L204.4 433.0 L205.2 432.8 L206.0 433.0 L206.8 431.6 L207.6 431.3 L208.4 430.6 L209.2 428.3 L210.0 428.5 L210.8 428.7 L211.6 428.9 L212.4 428.0 L213.2 428.7 L214.0 428.1 L214.8 426.8 L215.6 427.0 L216.4 426.8 L217.2 425.9 L218.0 424.3 L218.8 425.4 L219.6 424.0 L220.4 423.4 L221.2 423.5 L222.0 422.5 L222.8 422.8 L223.6 422.3 L224.4 421.9 L225.2 421.2 L226.0 420.0 L226.8 419.5 L227.6 419.5 L228.4 418.4 L229.2 419.7 L230.0 418.3 L230.8 417.6 L231.6 418.1 L232.4 417.1 L233.2 415.9 L234.0 415.7 L234.8 415.2 L235.6 415.1 L236.4 414.9 L237.2 414.1 L238.0 414.6 L238.8 414.6 L239.6 414.7 L240.4 412.4 L241.2 413.0 L242.0 413.2 L242.8 412.9 L243.6 412.7 L244.4 413.2 L245.2 412.4 L246.0 411.8 L246.8 411.7 L247.6 411.8 L248.4 410.5 L249.2 410.6 L250.0 410.7 L250.8 409.9 L251.6 408.4 L252.4 409.3 L253.2 408.8 L254.0 409.0 L254.8 409.2 L255.6 408.4 L256.4 407.9 L257.2 408.3 L258.0 408.0 L258.8 408.2 L259.6 408.0 L260.4 407.7 L261.2 407.3 L262.0 406.6 L262.8 406.9 L263.6 406.4 L264.4 405.9 L265.2 407.4 L266.0 406.2 L266.8 405.5 L267.6 405.3 L268.4 404.9 L269.2 404.6 L270.0 404.6 L270.8 404.0 L271.6 404.7 L272.4 403.4 L273.2 404.1 L274.0 402.3 L274.8 402.2 L275.6 403.1 L276.4 402.1 L277.2 401.4 L278.0 401.9 L278.8 401.3 L279.6 402.1 L280.4 401.1 L281.2 401.9 L282.0 401.6 L282.8 401.9 L283.6 401.5 L284.4 400.3 L285.2 401.2 L286.0 399.5 L286.8 398.5 L287.6 397.8 L288.4 399.5 L289.2 398.2 L290.0 397.8 L290.8 397.6 L291.6 397.3 L292.4 398.6 L293.2 397.7 L294.0 398.3 L294.8 396.9 L295.6 395.1 L296.4 395.9 L297.2 394.7 L298.0 394.8 L298.8 395.5 L299.6 394.8 L300.4 396.0 L301.2 394.6 L302.0 394.7 L302.8 395.3 L303.6 394.3 L304.4 395.6 L305.2 394.9 L306.0 393.6 L306.8 393.4 L307.6 392.5 L308.4 391.3 L309.2 391.4 L310.0 390.9 L310.8 390.9 L311.6 390.0 L312.4 390.3 L313.2 389.7 L314.0 388.7 L314.8 388.4 L315.6 387.8 L316.4 387.8 L317.2 386.5 L318.0 386.8 L318.8 387.7 L319.6 387.2 L320.4 386.2 L321.2 386.8 L322.0 386.4 L322.8 384.7 L323.6 384.6 L324.4 383.2 L325.2 382.6 L326.0 382.4 L326.8 381.8 L327.6 382.1 L328.4 381.8 L329.2 380.8 L330.0 380.1 L330.8 378.8 L331.6 378.8 L332.4 379.1 L333.2 377.4 L334.0 377.3 L334.8 376.4 L335.6 375.6 L336.4 374.8 L337.2 374.3 L338.0 373.5 L338.8 373.9 L339.6 373.0 L340.4 371.3 L341.2 371.1 L342.0 369.9 L342.8 370.8 L343.6 368.9 L344.4 368.5 L345.2 367.8 L346.0 366.9 L346.8 366.0 L347.6 366.6 L348.4 365.4 L349.2 365.3 L350.0 365.6 L350.8 363.3 L351.6 364.1 L352.4 362.7 L353.2 361.9 L354.0 360.3 L354.8 360.4 L355.6 359.4 L356.4 357.9 L357.2 358.8 L358.0 356.6 L358.8 355.4 L359.6 354.7 L360.4 353.9 L361.2 353.3 L362.0 352.4 L362.8 351.8 L363.6 351.2 L364.4 349.2 L365.2 348.3 L366.0 347.3 L366.8 346.7 L367.6 346.5 L368.4 345.6 L369.2 343.9 L370.0 343.9 L370.8 344.0 L371.6 342.9 L372.4 342.4 L373.2 341.5 L374.0 339.3 L374.8 339.3 L375.6 338.1 L376.4 337.5 L377.2 335.8 L378.0 335.6 L378.8 334.9 L379.6 334.6 L380.4 333.8 L381.2 332.5 L382.0 333.0 L382.8 332.0 L383.6 330.3 L384.4 328.8 L385.2 329.1 L386.0 327.2 L386.8 327.5 L387.6 327.5 L388.4 324.9 L389.2 324.1 L390.0 322.9 L390.8 321.0 L391.6 320.3 L392.4 319.9 L393.2 320.2 L394.0 319.1 L394.8 318.3 L395.6 317.6 L396.4 315.6 L397.2 316.2 L398.0 312.9 L398.8 312.7 L399.6 312.9 L400.4 311.1 L401.2 311.7 L402.0 310.9 L402.8 308.6 L403.6 307.7 L404.4 306.2 L405.2 306.5 L406.0 305.1 L406.8 304.7 L407.6 304.3 L408.4 303.0 L409.2 302.7 L410.0 301.4 L410.8 299.1 L411.6 298.3 L412.4 297.2 L413.2 295.1 L414.0 295.9 L414.8 294.5 L415.6 294.0 L416.4 292.4 L417.2 292.1 L418.0 291.4 L418.8 289.9 L419.6 289.0 L420.4 286.8 L421.2 287.3 L422.0 285.1 L422.8 283.1 L423.6 283.0 L424.4 282.5 L425.2 282.2 L426.0 280.7 L426.8 280.0 L427.6 278.5 L428.4 279.2 L429.2 277.2 L430.0 277.3 L430.8 274.4 L431.6 274.6 L432.4 272.6 L433.2 272.1 L434.0 270.8 L434.8 268.3 L435.6 267.9 L436.4 267.4 L437.2 266.2 L438.0 265.9 L438.8 264.3 L439.6 262.9 L440.4 262.9 L441.2 261.5 L442.0 259.6 L442.8 259.2 L443.6 258.4 L444.4 257.3 L445.2 255.8 L446.0 256.0 L446.8 254.9 L447.6 253.8 L448.4 252.3 L449.2 251.9 L450.0 250.4 L450.8 248.2 L451.6 247.1 L452.4 247.2 L453.2 245.4 L454.0 245.4 L454.8 244.3 L455.6 242.7 L456.4 242.0 L457.2 240.3 L458.0 240.2 L458.8 238.7 L459.6 240.7 L460.4 238.3 L461.2 236.6 L462.0 234.7 L462.8 234.1 L463.6 233.7 L464.4 233.2 L465.2 232.3 L466.0 229.9 L466.8 230.3 L467.6 228.2 L468.4 226.6 L469.2 225.9 L470.0 225.8 L470.8 225.0 L471.6 222.5 L472.4 223.4 L473.2 222.1 L474.0 220.6 L474.8 219.5 L475.6 219.3 L476.4 219.5 L477.2 217.1 L478.0 216.0 L478.8 215.9 L479.6 213.1 L480.4 213.5 L481.2 213.2 L482.0 211.9 L482.8 211.0 L483.6 210.3 L484.4 209.5 L485.2 207.7 L486.0 206.4 L486.8 205.6 L487.6 205.1 L488.4 205.2 L489.2 204.4 L490.0 203.1 L490.8 200.9 L491.6 200.0 L492.4 199.7 L493.2 199.8 L494.0 198.6 L494.8 197.5 L495.6 196.1 L496.4 196.2 L497.2 194.9 L498.0 194.1 L498.8 193.1 L499.6 193.3 L500.4 191.3 L501.2 191.1 L502.0 190.0 L502.8 188.1 L503.6 187.3 L504.4 185.4 L505.2 184.4 L506.0 183.4 L506.8 182.9 L507.6 183.3 L508.4 182.0 L509.2 182.0 L510.0 181.1 L510.8 177.7 L511.6 179.0 L512.4 176.8 L513.2 177.5 L514.0 176.4 L514.8 176.8 L515.6 177.0 L516.4 174.0 L517.2 173.8 L518.0 172.8 L518.8 171.0 L519.6 172.0 L520.4 171.6 L521.2 170.7 L522.0 169.8 L522.8 172.2 L523.6 169.0 L524.4 166.7 L525.2 166.5 L526.0 166.0 L526.8 165.5 L527.6 165.4 L528.4 164.2 L529.2 164.6 L530.0 163.2 L530.8 162.4 L531.6 162.7 L532.4 163.0 L533.2 163.4 L534.0 162.8 L534.8 161.5 L535.6 161.2 L536.4 161.3 L537.2 161.4 L538.0 159.1 L538.8 159.6 L539.6 159.3 L540.4 158.2 L541.2 158.8 L542.0 158.6 L542.8 157.4 L543.6 157.6 L544.4 157.5 L545.2 156.7 L546.0 155.9 L546.8 156.2 L547.6 158.0 L548.4 155.8 L549.2 156.2 L550.0 156.5 L550.8 155.1 L551.6 155.3 L552.4 155.5 L553.2 155.8 L554.0 156.7 L554.8 155.2 L555.6 155.0 L556.4 155.5 L557.2 154.6 L558.0 155.4 L558.8 154.8 L559.6 155.0 L560.4 155.6 L561.2 155.0 L562.0 154.7 L562.8 153.6 L563.6 155.7 L564.4 154.7 L565.2 155.1 L566.0 156.7 L566.8 154.7 L567.6 156.3 L568.4 155.8 L569.2 156.1 L570.0 155.8 L570.8 156.3 L571.6 156.3 L572.4 157.3 L573.2 157.2 L574.0 155.9 L574.8 156.2 L575.6 156.3 L576.4 156.8 L577.2 156.8 L578.0 158.5 L578.8 158.8 L579.6 158.4 L580.4 159.8 L581.2 160.5 L582.0 159.5 L582.8 159.4 L583.6 161.6 L584.4 162.3 L585.2 161.3 L586.0 162.2 L586.8 164.0 L587.6 163.5 L588.4 164.4 L589.2 164.9 L590.0 166.4 L590.8 164.9 L591.6 165.6 L592.4 166.4 L593.2 168.2 L594.0 167.9 L594.8 166.9 L595.6 169.5 L596.4 170.8 L597.2 170.6 L598.0 171.7 L598.8 173.6 L599.6 175.2 L600.4 175.4 L601.2 177.2 L602.0 177.5 L602.8 177.4 L603.6 178.7 L604.4 179.8 L605.2 179.9 L606.0 180.9 L606.8 181.9 L607.6 182.4 L608.4 183.8 L609.2 183.6 L610.0 186.2 L610.8 186.7 L611.6 188.0 L612.4 188.5 L613.2 191.2 L614.0 192.0 L614.8 191.6 L615.6 192.6 L616.4 194.3 L617.2 195.1 L618.0 197.5 L618.8 196.2 L619.6 197.1 L620.4 199.4 L621.2 200.6 L622.0 201.8 L622.8 203.1 L623.6 205.3 L624.4 205.1 L625.2 206.3 L626.0 206.6 L626.8 209.3 L627.6 210.5 L628.4 210.0 L629.2 212.4 L630.0 212.3 L630.8 214.7 L631.6 215.5 L632.4 215.8 L633.2 217.5 L634.0 218.4 L634.8 219.6 L635.6 221.7 L636.4 223.3 L637.2 225.3 L638.0 225.3 L638.8 226.9 L639.6 228.5 L640.4 231.2 L641.2 231.9 L642.0 232.1 L642.8 233.8 L643.6 234.7 L644.4 233.8 L645.2 237.6 L646.0 237.8 L646.8 238.8 L647.6 240.5 L648.4 242.8 L649.2 244.2 L650.0 245.6 L650.8 244.4 L651.6 245.8 L652.4 248.6 L653.2 248.3 L654.0 250.0 L654.8 251.2 L655.6 255.0 L656.4 256.1 L657.2 257.1 L658.0 258.3 L658.8 259.7 L659.6 261.2 L660.4 263.4 L661.2 263.5 L662.0 266.3 L662.8 266.6 L663.6 268.4 L664.4 272.2 L665.2 272.8 L666.0 275.0 L666.8 275.2 L667.6 274.4 L668.4 278.1 L669.2 278.1 L670.0 281.7 L670.8 281.5 L671.6 283.4 L672.4 286.8 L673.2 288.5 L674.0 291.3 L674.8 291.9 L675.6 295.4 L676.4 296.1 L677.2 297.7 L678.0 299.7 L678.8 301.4 L679.6 303.5 L680.4 304.4 L681.2 306.4 L682.0 309.2 L682.8 309.1 L683.6 311.1 L684.4 313.8 L685.2 315.2 L686.0 318.5 L686.8 319.0 L687.6 323.5 L688.4 325.0 L689.2 325.9 L690.0 326.9 L690.8 329.1 L691.6 330.5 L692.4 333.0 L693.2 333.9 L694.0 336.1 L694.8 337.0 L695.6 340.0 L696.4 339.2 L697.2 342.0 L698.0 345.8 L698.8 347.1 L699.6 350.9 L700.4 351.7 L701.2 353.8 L702.0 354.7 L702.8 356.6 L703.6 359.2 L704.4 360.8 L705.2 362.4 L706.0 365.9 L706.8 366.0 L707.6 366.8 L708.4 369.6 L709.2 371.8 L710.0 373.8 L710.8 376.5 L711.6 376.6 L712.4 379.9 L713.2 382.3 L714.0 382.6 L714.8 384.6 L715.6 384.1 L716.4 387.0 L717.2 391.0 L718.0 390.1 L718.8 392.5 L719.6 395.2 L720.4 397.9 L721.2 400.2 L722.0 399.8 L722.8 403.0 L723.6 405.4 L724.4 405.9 L725.2 408.7 L726.0 411.6 L726.8 413.1 L727.6 413.9 L728.4 412.8 L729.2 417.8 L730.0 419.2 L730.8 421.0 L731.6 423.1 L732.4 427.4 L733.2 427.1 L734.0 427.2 L734.8 430.2 L735.6 431.1 L736.4 433.1 L737.2 435.8 L738.0 437.9 L738.8 439.2 L739.6 439.9 L740.4 442.0 L741.2 444.2 L742.0 444.7 L742.8 447.7 L743.6 449.4 L744.4 449.7 L745.2 452.4 L746.0 455.5 L746.8 456.1 L747.6 456.8 L748.4 459.4 L749.2 458.8 L750.0 460.4 L750.8 463.5 L751.6 465.6 L752.4 468.7 L753.2 469.8 L754.0 472.1 L754.8 472.9 L755.6 474.3 L756.4 476.0 L757.2 477.0 L758.0 478.8 L758.8 478.4 L759.6 481.0 L760.4 483.7 L761.2 485.4 L762.0 486.0 L762.8 487.7 L763.6 488.2 L764.4 490.7 L765.2 492.3 L766.0 491.0 L766.8 494.1 L767.6 496.3 L768.4 498.5 L769.2 499.2 L770.0 501.9 L770.8 501.5 L771.6 503.8 L772.4 503.8 L773.2 504.9 L774.0 508.4 L774.8 509.9 L775.6 509.4 L776.4 512.9 L777.2 511.3 L778.0 514.0 L778.8 516.8 L779.6 514.8 L780.4 518.2 L781.2 519.1 L782.0 520.0 L782.8 520.3 L783.6 523.0 L784.4 522.9 L785.2 524.2 L786.0 526.4 L786.8 527.4 L787.6 531.2 L788.4 530.2 L789.2 531.5 L790.0 532.5 L790.8 533.3 L791.6 535.5 L792.4 538.0 L793.2 538.4 L794.0 539.6 L794.8 541.0 L795.6 542.0 L796.4 543.2 L797.2 543.7 L798.0 542.9 L798.8 547.4 L799.6 548.0 L800.4 549.1 L801.2 550.8 L802.0 551.2 L802.8 551.7 L803.6 553.2 L804.4 554.6 L805.2 555.2 L806.0 555.6 L806.8 557.6 L807.6 559.0 L808.4 559.0 L809.2 560.5 L810.0 559.6 L810.8 562.8 L811.6 564.4 L812.4 564.0 L813.2 564.3 L814.0 566.4 L814.8 565.9 L815.6 567.8 L816.4 567.8 L817.2 570.2 L818.0 569.9 L818.8 569.7 L819.2 571.3 L819.2 566.0 L819.2 571.0" stroke="#6B518A"/>
<path d="M178.0 434.0 L178.0 428.4 L178.8 428.6 L179.6 427.3 L180.4 426.1 L181.2 425.8 L182.0 424.8 L182.8 424.1 L183.6 424.3 L184.4 423.4 L185.2 423.3 L186.0 422.3 L186.8 421.7 L187.6 420.9 L188.4 419.5 L189.2 419.8 L190.0 419.3 L190.8 418.4 L191.6 417.8 L192.4 416.8 L193.2 415.8 L194.0 416.2 L194.8 415.8 L195.6 414.2 L196.4 413.9 L197.2 414.0 L198.0 412.4 L198.8 412.1 L199.6 411.1 L200.4 411.5 L201.2 410.6 L202.0 409.9 L202.8 408.9 L203.6 408.8 L204.4 408.3 L205.2 407.3 L206.0 407.0 L206.8 406.9 L207.6 405.9 L208.4 405.9 L209.2 405.6 L210.0 404.8 L210.8 404.7 L211.6 404.6 L212.4 403.9 L213.2 403.3 L214.0 402.7 L214.8 402.5 L215.6 401.5 L216.4 401.2 L217.2 401.3 L218.0 401.1 L218.8 400.5 L219.6 398.9 L220.4 398.9 L221.2 398.0 L222.0 397.5 L222.8 397.2 L223.6 397.4 L224.4 397.3 L225.2 395.7 L226.0 396.3 L226.8 395.5 L227.6 395.4 L228.4 395.4 L229.2 395.1 L230.0 393.8 L230.8 393.4 L231.6 393.2 L232.4 392.0 L233.2 392.8 L234.0 392.2 L234.8 392.1 L235.6 391.6 L236.4 391.9 L237.2 390.5 L238.0 389.7 L238.8 390.5 L239.6 388.9 L240.4 388.9 L241.2 388.7 L242.0 389.4 L242.8 388.7 L243.6 388.3 L244.4 387.4 L245.2 387.0 L246.0 386.0 L246.8 385.4 L247.6 386.1 L248.4 385.6 L249.2 386.5 L250.0 385.5 L250.8 385.1 L251.6 384.7 L252.4 385.5 L253.2 383.7 L254.0 384.6 L254.8 384.3 L255.6 383.1 L256.4 384.0 L257.2 382.1 L258.0 383.2 L258.8 382.2 L259.6 382.4 L260.4 382.1 L261.2 381.2 L262.0 381.7 L262.8 380.8 L263.6 380.1 L264.4 379.5 L265.2 378.7 L266.0 379.4 L266.8 380.1 L267.6 378.6 L268.4 378.8 L269.2 378.0 L270.0 378.5 L270.8 378.2 L271.6 377.8 L272.4 377.1 L273.2 377.5 L274.0 377.6 L274.8 376.7 L275.6 376.5 L276.4 375.8 L277.2 374.9 L278.0 376.0 L278.8 375.7 L279.6 375.0 L280.4 374.8 L281.2 374.7 L282.0 374.0 L282.8 374.5 L283.6 374.2 L284.4 372.5 L285.2 373.4 L286.0 372.4 L286.8 372.2 L287.6 372.6 L288.4 371.8 L289.2 372.2 L290.0 372.1 L290.8 371.5 L291.6 370.2 L292.4 370.3 L293.2 370.8 L294.0 370.0 L294.8 369.6 L295.6 369.2 L296.4 369.3 L297.2 369.2 L298.0 369.2 L298.8 368.7 L299.6 368.8 L300.4 368.1 L301.2 367.6 L302.0 366.2 L302.8 367.0 L303.6 366.3 L304.4 367.8 L305.2 367.5 L306.0 367.0 L306.8 366.1 L307.6 365.0 L308.4 365.5 L309.2 364.3 L310.0 364.2 L310.8 363.2 L311.6 362.8 L312.4 362.7 L313.2 363.2 L314.0 361.3 L314.8 362.6 L315.6 363.2 L316.4 360.8 L317.2 361.4 L318.0 359.9 L318.8 359.7 L319.6 359.0 L320.4 358.8 L321.2 359.2 L322.0 359.0 L322.8 358.3 L323.6 357.7 L324.4 356.9 L325.2 356.3 L326.0 355.8 L326.8 355.4 L327.6 356.0 L328.4 354.9 L329.2 355.8 L330.0 356.0 L330.8 354.7 L331.6 353.0 L332.4 354.0 L333.2 352.6 L334.0 350.3 L334.8 351.2 L335.6 350.9 L336.4 350.1 L337.2 349.9 L338.0 349.3 L338.8 348.6 L339.6 347.2 L340.4 347.5 L341.2 347.3 L342.0 347.3 L342.8 345.4 L343.6 345.1 L344.4 345.5 L345.2 343.3 L346.0 342.9 L346.8 342.9 L347.6 342.5 L348.4 341.6 L349.2 339.8 L350.0 340.6 L350.8 339.0 L351.6 339.5 L352.4 338.2 L353.2 337.8 L354.0 337.6 L354.8 336.4 L355.6 336.6 L356.4 336.7 L357.2 335.4 L358.0 335.1 L358.8 333.3 L359.6 333.1 L360.4 332.0 L361.2 330.7 L362.0 330.5 L362.8 329.2 L363.6 328.5 L364.4 328.1 L365.2 328.1 L366.0 326.3 L366.8 326.0 L367.6 323.9 L368.4 323.9 L369.2 324.0 L370.0 322.6 L370.8 322.0 L371.6 320.8 L372.4 319.4 L373.2 319.5 L374.0 318.0 L374.8 317.2 L375.6 317.8 L376.4 316.0 L377.2 316.8 L378.0 314.3 L378.8 314.4 L379.6 312.2 L380.4 311.8 L381.2 310.5 L382.0 310.5 L382.8 309.8 L383.6 309.2 L384.4 308.7 L385.2 308.2 L386.0 306.0 L386.8 306.1 L387.6 304.3 L388.4 303.5 L389.2 304.1 L390.0 300.3 L390.8 301.2 L391.6 299.8 L392.4 299.9 L393.2 298.8 L394.0 299.8 L394.8 296.5 L395.6 296.3 L396.4 295.3 L397.2 293.1 L398.0 292.9 L398.8 293.0 L399.6 291.4 L400.4 290.6 L401.2 289.3 L402.0 287.0 L402.8 286.5 L403.6 286.1 L404.4 285.6 L405.2 283.6 L406.0 282.6 L406.8 281.9 L407.6 280.8 L408.4 279.9 L409.2 278.8 L410.0 277.3 L410.8 275.6 L411.6 275.2 L412.4 274.7 L413.2 273.1 L414.0 273.0 L414.8 271.5 L415.6 270.7 L416.4 270.2 L417.2 268.4 L418.0 266.8 L418.8 265.6 L419.6 265.0 L420.4 266.0 L421.2 262.7 L422.0 262.8 L422.8 262.0 L423.6 261.3 L424.4 259.1 L425.2 257.2 L426.0 258.5 L426.8 255.8 L427.6 255.4 L428.4 253.5 L429.2 252.2 L430.0 251.6 L430.8 251.4 L431.6 250.2 L432.4 248.3 L433.2 247.9 L434.0 246.5 L434.8 246.0 L435.6 244.9 L436.4 244.2 L437.2 242.3 L438.0 241.5 L438.8 241.2 L439.6 239.6 L440.4 237.9 L441.2 238.1 L442.0 235.2 L442.8 235.6 L443.6 234.4 L444.4 233.7 L445.2 230.8 L446.0 231.8 L446.8 229.3 L447.6 228.1 L448.4 227.7 L449.2 228.1 L450.0 225.8 L450.8 223.6 L451.6 223.0 L452.4 223.0 L453.2 220.2 L454.0 219.6 L454.8 218.5 L455.6 219.0 L456.4 216.2 L457.2 216.5 L458.0 213.9 L458.8 212.7 L459.6 212.7 L460.4 211.3 L461.2 209.0 L462.0 209.5 L462.8 208.7 L463.6 206.4 L464.4 206.1 L465.2 204.9 L466.0 203.2 L466.8 202.4 L467.6 201.4 L468.4 200.9 L469.2 199.7 L470.0 199.5 L470.8 197.3 L471.6 196.9 L472.4 195.5 L473.2 194.2 L474.0 194.6 L474.8 194.2 L475.6 192.7 L476.4 189.6 L477.2 190.2 L478.0 188.5 L478.8 186.6 L479.6 185.1 L480.4 184.7 L481.2 184.8 L482.0 183.3 L482.8 181.8 L483.6 180.0 L484.4 179.6 L485.2 179.8 L486.0 179.3 L486.8 177.1 L487.6 176.1 L488.4 175.0 L489.2 174.1 L490.0 173.4 L490.8 172.9 L491.6 170.2 L492.4 169.8 L493.2 170.6 L494.0 168.6 L494.8 167.7 L495.6 166.2 L496.4 165.7 L497.2 165.2 L498.0 164.5 L498.8 162.8 L499.6 162.2 L500.4 162.2 L501.2 159.6 L502.0 160.3 L502.8 159.3 L503.6 157.0 L504.4 157.2 L505.2 156.2 L506.0 155.5 L506.8 155.0 L507.6 152.1 L508.4 151.0 L509.2 152.1 L510.0 150.8 L510.8 150.3 L511.6 149.2 L512.4 149.3 L513.2 146.6 L514.0 148.0 L514.8 146.0 L515.6 146.2 L516.4 145.8 L517.2 142.5 L518.0 143.5 L518.8 142.1 L519.6 141.1 L520.4 140.7 L521.2 139.2 L522.0 138.2 L522.8 139.1 L523.6 138.8 L524.4 136.9 L525.2 136.3 L526.0 138.2 L526.8 136.7 L527.6 135.7 L528.4 134.2 L529.2 133.8 L530.0 133.4 L530.8 131.9 L531.6 132.5 L532.4 130.4 L533.2 129.8 L534.0 128.6 L534.8 128.2 L535.6 127.9 L536.4 128.8 L537.2 127.5 L538.0 126.9 L538.8 126.8 L539.6 125.8 L540.4 126.3 L541.2 124.9 L542.0 123.8 L542.8 124.4 L543.6 124.8 L544.4 122.8 L545.2 122.4 L546.0 121.4 L546.8 121.5 L547.6 121.3 L548.4 120.7 L549.2 120.9 L550.0 121.9 L550.8 121.7 L551.6 121.2 L552.4 120.5 L553.2 118.5 L554.0 117.8 L554.8 118.1 L555.6 116.3 L556.4 117.1 L557.2 115.2 L558.0 116.4 L558.8 115.7 L559.6 115.1 L560.4 116.6 L561.2 114.6 L562.0 115.2 L562.8 115.5 L563.6 114.7 L564.4 116.1 L565.2 114.3 L566.0 113.8 L566.8 113.1 L567.6 113.8 L568.4 113.7 L569.2 113.8 L570.0 113.3 L570.8 114.0 L571.6 114.7 L572.4 113.6 L573.2 112.9 L574.0 112.4 L574.8 114.7 L575.6 114.8 L576.4 114.5 L577.2 114.2 L578.0 113.0 L578.8 113.0 L579.6 112.8 L580.4 113.1 L581.2 112.7 L582.0 112.4 L582.8 113.5 L583.6 113.5 L584.4 112.3 L585.2 113.9 L586.0 115.2 L586.8 114.2 L587.6 114.2 L588.4 113.2 L589.2 114.4 L590.0 112.7 L590.8 112.9 L591.6 113.6 L592.4 115.8 L593.2 113.5 L594.0 112.9 L594.8 114.1 L595.6 114.6 L596.4 116.1 L597.2 114.4 L598.0 114.8 L598.8 115.9 L599.6 116.6 L600.4 116.9 L601.2 117.7 L602.0 116.1 L602.8 116.9 L603.6 117.9 L604.4 118.7 L605.2 119.0 L606.0 118.7 L606.8 118.8 L607.6 120.6 L608.4 120.4 L609.2 122.6 L610.0 120.9 L610.8 122.1 L611.6 121.4 L612.4 121.6 L613.2 121.5 L614.0 122.3 L614.8 122.2 L615.6 123.3 L616.4 124.4 L617.2 125.1 L618.0 126.2 L618.8 126.4 L619.6 127.8 L620.4 129.1 L621.2 128.0 L622.0 127.9 L622.8 127.2 L623.6 127.8 L624.4 129.5 L625.2 128.9 L626.0 130.9 L626.8 131.7 L627.6 131.9 L628.4 131.0 L629.2 131.4 L630.0 133.0 L630.8 134.1 L631.6 136.1 L632.4 135.5 L633.2 136.1 L634.0 138.4 L634.8 137.7 L635.6 140.1 L636.4 140.7 L637.2 139.3 L638.0 141.3 L638.8 141.5 L639.6 141.9 L640.4 141.7 L641.2 142.1 L642.0 143.6 L642.8 144.4 L643.6 146.4 L644.4 146.3 L645.2 148.2 L646.0 149.5 L646.8 149.8 L647.6 150.4 L648.4 152.9 L649.2 152.5 L650.0 151.8 L650.8 153.8 L651.6 156.1 L652.4 158.8 L653.2 158.3 L654.0 160.3 L654.8 161.8 L655.6 161.1 L656.4 162.8 L657.2 160.4 L658.0 165.0 L658.8 164.8 L659.6 165.4 L660.4 169.1 L661.2 170.4 L662.0 171.4 L662.8 172.2 L663.6 172.9 L664.4 173.4 L665.2 174.9 L666.0 176.5 L666.8 177.5 L667.6 177.3 L668.4 179.3 L669.2 181.3 L670.0 182.7 L670.8 185.5 L671.6 186.9 L672.4 185.5 L673.2 187.0 L674.0 187.4 L674.8 189.0 L675.6 191.7 L676.4 192.3 L677.2 193.9 L678.0 195.2 L678.8 197.6 L679.6 198.3 L680.4 200.5 L681.2 203.3 L682.0 204.4 L682.8 205.5 L683.6 207.2 L684.4 207.1 L685.2 209.6 L686.0 210.6 L686.8 213.9 L687.6 215.9 L688.4 215.8 L689.2 220.0 L690.0 219.2 L690.8 222.6 L691.6 224.1 L692.4 224.9 L693.2 226.1 L694.0 228.6 L694.8 230.7 L695.6 232.0 L696.4 234.7 L697.2 234.5 L698.0 237.0 L698.8 238.3 L699.6 239.8 L700.4 243.3 L701.2 244.4 L702.0 245.6 L702.8 248.1 L703.6 250.2 L704.4 252.4 L705.2 253.1 L706.0 257.3 L706.8 259.5 L707.6 261.6 L708.4 263.2 L709.2 263.1 L710.0 264.3 L710.8 267.1 L711.6 269.7 L712.4 271.8 L713.2 273.6 L714.0 275.1 L714.8 278.9 L715.6 280.8 L716.4 281.1 L717.2 284.3 L718.0 286.8 L718.8 288.6 L719.6 292.1 L720.4 293.8 L721.2 293.9 L722.0 297.0 L722.8 299.5 L723.6 301.8 L724.4 304.9 L725.2 303.9 L726.0 307.1 L726.8 309.5 L727.6 311.9 L728.4 314.4 L729.2 314.6 L730.0 316.9 L730.8 318.2 L731.6 321.9 L732.4 322.2 L733.2 326.7 L734.0 328.6 L734.8 330.4 L735.6 329.8 L736.4 333.5 L737.2 336.6 L738.0 337.0 L738.8 340.5 L739.6 342.7 L740.4 345.5 L741.2 347.4 L742.0 350.2 L742.8 352.0 L743.6 355.2 L744.4 357.3 L745.2 359.3 L746.0 360.6 L746.8 363.7 L747.6 363.8 L748.4 368.9 L749.2 369.5 L750.0 372.1 L750.8 373.5 L751.6 376.4 L752.4 378.7 L753.2 379.6 L754.0 382.0 L754.8 383.8 L755.6 386.6 L756.4 387.3 L757.2 390.9 L758.0 392.9 L758.8 394.1 L759.6 396.5 L760.4 397.2 L761.2 401.0 L762.0 403.0 L762.8 405.6 L763.6 405.7 L764.4 408.4 L765.2 411.3 L766.0 412.5 L766.8 415.9 L767.6 416.9 L768.4 418.9 L769.2 421.4 L770.0 423.1 L770.8 426.6 L771.6 428.1 L772.4 428.7 L773.2 432.6 L774.0 432.7 L774.8 436.2 L775.6 436.8 L776.4 439.4 L777.2 442.9 L778.0 443.1 L778.8 444.7 L779.6 446.6 L780.4 449.1 L781.2 452.2 L782.0 452.4 L782.8 454.1 L783.6 456.7 L784.4 456.9 L785.2 459.9 L786.0 462.7 L786.8 463.4 L787.6 464.7 L788.4 465.7 L789.2 468.1 L790.0 470.7 L790.8 473.0 L791.6 475.6 L792.4 476.6 L793.2 476.9 L794.0 478.1 L794.8 481.2 L795.6 480.4 L796.4 483.8 L797.2 485.5 L798.0 486.4 L798.8 488.2 L799.6 490.0 L800.4 490.8 L801.2 492.3 L802.0 494.8 L802.8 496.9 L803.6 496.6 L804.4 501.6 L805.2 500.7 L806.0 502.2 L806.8 504.0 L807.6 504.4 L808.4 506.1 L809.2 509.7 L810.0 509.5 L810.8 510.5 L811.6 513.4 L812.4 513.2 L813.2 515.9 L814.0 517.0 L814.8 517.6 L815.6 520.1 L816.4 519.5 L817.2 521.8 L818.0 520.8 L818.8 523.1 L819.2 524.3 L819.2 510.5 L819.2 521.0" stroke="#3A93AE"/>
<path d="M178.0 431.0 L178.0 423.8 L178.8 423.0 L179.6 422.3 L180.4 422.3 L181.2 422.4 L182.0 421.8 L182.8 420.3 L183.6 419.8 L184.4 419.8 L185.2 419.3 L186.0 418.6 L186.8 418.0 L187.6 418.3 L188.4 416.8 L189.2 415.9 L190.0 415.1 L190.8 415.2 L191.6 414.2 L192.4 414.5 L193.2 412.8 L194.0 412.4 L194.8 411.9 L195.6 411.8 L196.4 409.6 L197.2 410.7 L198.0 409.5 L198.8 408.5 L199.6 407.8 L200.4 407.4 L201.2 406.9 L202.0 405.8 L202.8 406.7 L203.6 405.5 L204.4 404.9 L205.2 404.8 L206.0 405.4 L206.8 403.8 L207.6 402.4 L208.4 402.3 L209.2 400.5 L210.0 400.5 L210.8 400.3 L211.6 400.7 L212.4 400.7 L213.2 400.1 L214.0 398.9 L214.8 398.7 L215.6 398.2 L216.4 397.6 L217.2 397.2 L218.0 396.0 L218.8 395.9 L219.6 395.5 L220.4 394.3 L221.2 394.7 L222.0 393.8 L222.8 393.1 L223.6 393.0 L224.4 392.6 L225.2 392.2 L226.0 392.1 L226.8 391.6 L227.6 391.1 L228.4 392.0 L229.2 391.4 L230.0 390.5 L230.8 390.2 L231.6 389.1 L232.4 388.8 L233.2 388.6 L234.0 389.5 L234.8 388.7 L235.6 387.5 L236.4 386.3 L237.2 386.2 L238.0 386.2 L238.8 385.0 L239.6 385.0 L240.4 385.0 L241.2 384.7 L242.0 385.1 L242.8 384.2 L243.6 383.4 L244.4 382.5 L245.2 383.8 L246.0 382.2 L246.8 382.1 L247.6 382.2 L248.4 380.8 L249.2 380.8 L250.0 379.9 L250.8 379.8 L251.6 379.5 L252.4 379.9 L253.2 379.5 L254.0 379.1 L254.8 378.8 L255.6 378.9 L256.4 378.0 L257.2 378.7 L258.0 378.5 L258.8 377.5 L259.6 376.9 L260.4 377.1 L261.2 375.7 L262.0 375.8 L262.8 375.6 L263.6 374.7 L264.4 374.7 L265.2 375.0 L266.0 375.4 L266.8 374.0 L267.6 373.7 L268.4 373.8 L269.2 374.0 L270.0 374.5 L270.8 373.2 L271.6 373.1 L272.4 375.4 L273.2 373.4 L274.0 373.1 L274.8 372.5 L275.6 372.3 L276.4 370.7 L277.2 371.3 L278.0 371.7 L278.8 371.9 L279.6 371.4 L280.4 370.5 L281.2 369.6 L282.0 368.5 L282.8 370.5 L283.6 369.2 L284.4 368.9 L285.2 370.0 L286.0 368.3 L286.8 368.3 L287.6 368.5 L288.4 368.3 L289.2 367.6 L290.0 366.9 L290.8 367.3 L291.6 366.4 L292.4 366.2 L293.2 366.7 L294.0 366.8 L294.8 365.9 L295.6 366.1 L296.4 366.2 L297.2 366.8 L298.0 364.8 L298.8 365.3 L299.6 363.6 L300.4 363.8 L301.2 363.6 L302.0 363.5 L302.8 362.8 L303.6 362.6 L304.4 362.2 L305.2 362.0 L306.0 362.2 L306.8 361.9 L307.6 362.0 L308.4 362.0 L309.2 361.7 L310.0 359.8 L310.8 360.0 L311.6 359.8 L312.4 359.3 L313.2 359.9 L314.0 359.3 L314.8 358.7 L315.6 358.6 L316.4 358.6 L317.2 357.1 L318.0 356.2 L318.8 356.5 L319.6 356.5 L320.4 357.2 L321.2 356.9 L322.0 356.8 L322.8 355.5 L323.6 354.6 L324.4 354.4 L325.2 352.2 L326.0 353.3 L326.8 353.4 L327.6 353.2 L328.4 352.7 L329.2 353.2 L330.0 352.0 L330.8 351.6 L331.6 351.5 L332.4 350.0 L333.2 349.3 L334.0 348.7 L334.8 348.4 L335.6 348.0 L336.4 347.7 L337.2 347.9 L338.0 345.8 L338.8 346.2 L339.6 345.8 L340.4 344.4 L341.2 344.5 L342.0 343.2 L342.8 343.2 L343.6 343.0 L344.4 342.4 L345.2 341.7 L346.0 340.9 L346.8 340.6 L347.6 340.3 L348.4 340.1 L349.2 337.5 L350.0 337.9 L350.8 336.1 L351.6 336.6 L352.4 335.7 L353.2 335.3 L354.0 334.7 L354.8 333.5 L355.6 332.0 L356.4 331.4 L357.2 331.4 L358.0 329.8 L358.8 329.3 L359.6 327.9 L360.4 328.1 L361.2 326.4 L362.0 326.1 L362.8 325.5 L363.6 324.2 L364.4 324.1 L365.2 323.7 L366.0 322.3 L366.8 322.1 L367.6 321.3 L368.4 318.6 L369.2 319.1 L370.0 318.6 L370.8 317.8 L371.6 315.1 L372.4 313.9 L373.2 313.9 L374.0 313.3 L374.8 312.0 L375.6 311.8 L376.4 310.7 L377.2 308.5 L378.0 309.2 L378.8 308.5 L379.6 307.7 L380.4 307.0 L381.2 305.4 L382.0 304.3 L382.8 303.0 L383.6 301.9 L384.4 301.4 L385.2 301.2 L386.0 300.0 L386.8 299.6 L387.6 297.7 L388.4 296.2 L389.2 296.4 L390.0 295.5 L390.8 293.2 L391.6 291.7 L392.4 292.1 L393.2 290.9 L394.0 289.0 L394.8 288.6 L395.6 287.0 L396.4 286.2 L397.2 285.5 L398.0 285.2 L398.8 284.4 L399.6 283.2 L400.4 280.6 L401.2 281.9 L402.0 279.2 L402.8 279.0 L403.6 277.8 L404.4 277.7 L405.2 276.0 L406.0 275.6 L406.8 274.0 L407.6 273.9 L408.4 271.3 L409.2 270.2 L410.0 269.9 L410.8 269.7 L411.6 267.0 L412.4 267.0 L413.2 265.1 L414.0 265.0 L414.8 264.0 L415.6 262.5 L416.4 261.5 L417.2 260.6 L418.0 258.9 L418.8 258.6 L419.6 257.0 L420.4 256.6 L421.2 255.6 L422.0 254.6 L422.8 254.0 L423.6 253.1 L424.4 252.6 L425.2 252.4 L426.0 249.4 L426.8 250.2 L427.6 248.0 L428.4 247.0 L429.2 245.0 L430.0 244.6 L430.8 244.4 L431.6 243.0 L432.4 241.8 L433.2 241.0 L434.0 239.9 L434.8 239.2 L435.6 237.4 L436.4 235.6 L437.2 234.7 L438.0 233.9 L438.8 232.7 L439.6 231.3 L440.4 230.6 L441.2 229.0 L442.0 228.0 L442.8 227.9 L443.6 226.6 L444.4 225.5 L445.2 223.4 L446.0 224.3 L446.8 222.7 L447.6 221.8 L448.4 220.8 L449.2 219.4 L450.0 217.6 L450.8 218.0 L451.6 215.8 L452.4 215.4 L453.2 214.8 L454.0 212.5 L454.8 211.8 L455.6 210.0 L456.4 210.3 L457.2 208.4 L458.0 207.0 L458.8 207.7 L459.6 206.1 L460.4 203.7 L461.2 204.2 L462.0 202.7 L462.8 203.4 L463.6 201.8 L464.4 198.7 L465.2 197.7 L466.0 196.4 L466.8 196.3 L467.6 196.1 L468.4 195.5 L469.2 194.2 L470.0 191.7 L470.8 190.8 L471.6 191.3 L472.4 190.2 L473.2 188.8 L474.0 187.6 L474.8 186.7 L475.6 185.3 L476.4 183.3 L477.2 184.0 L478.0 181.5 L478.8 180.8 L479.6 178.1 L480.4 178.6 L481.2 178.6 L482.0 175.9 L482.8 176.9 L483.6 175.3 L484.4 173.7 L485.2 172.0 L486.0 172.8 L486.8 170.9 L487.6 170.1 L488.4 169.1 L489.2 167.6 L490.0 168.1 L490.8 166.1 L491.6 165.6 L492.4 163.3 L493.2 162.4 L494.0 160.7 L494.8 161.7 L495.6 159.1 L496.4 158.8 L497.2 159.5 L498.0 158.3 L498.8 158.1 L499.6 157.3 L500.4 155.7 L501.2 154.7 L502.0 152.9 L502.8 152.4 L503.6 151.6 L504.4 151.5 L505.2 148.8 L506.0 147.6 L506.8 147.0 L507.6 146.8 L508.4 145.9 L509.2 145.4 L510.0 144.5 L510.8 143.8 L511.6 142.4 L512.4 141.7 L513.2 140.3 L514.0 140.8 L514.8 140.4 L515.6 138.9 L516.4 137.3 L517.2 136.9 L518.0 136.7 L518.8 134.8 L519.6 133.9 L520.4 133.5 L521.2 134.6 L522.0 134.4 L522.8 133.1 L523.6 132.6 L524.4 131.0 L525.2 129.0 L526.0 128.9 L526.8 127.1 L527.6 127.6 L528.4 126.7 L529.2 127.2 L530.0 126.4 L530.8 124.6 L531.6 125.6 L532.4 124.7 L533.2 122.7 L534.0 123.5 L534.8 123.3 L535.6 122.1 L536.4 123.3 L537.2 122.5 L538.0 122.7 L538.8 121.9 L539.6 121.2 L540.4 121.1 L541.2 120.5 L542.0 119.5 L542.8 117.9 L543.6 116.8 L544.4 117.0 L545.2 116.5 L546.0 116.6 L546.8 116.3 L547.6 115.9 L548.4 115.2 L549.2 115.3 L550.0 116.0 L550.8 115.4 L551.6 113.7 L552.4 114.4 L553.2 113.2 L554.0 112.9 L554.8 113.4 L555.6 112.3 L556.4 112.0 L557.2 110.8 L558.0 112.1 L558.8 112.8 L559.6 111.6 L560.4 113.0 L561.2 112.5 L562.0 112.9 L562.8 111.8 L563.6 112.0 L564.4 112.5 L565.2 110.6 L566.0 112.8 L566.8 112.8 L567.6 111.1 L568.4 113.3 L569.2 112.6 L570.0 112.9 L570.8 112.6 L571.6 112.4 L572.4 111.7 L573.2 112.1 L574.0 112.2 L574.8 114.2 L575.6 114.2 L576.4 112.4 L577.2 112.6 L578.0 113.1 L578.8 113.2 L579.6 113.2 L580.4 113.4 L581.2 115.9 L582.0 115.5 L582.8 113.5 L583.6 113.8 L584.4 114.0 L585.2 115.3 L586.0 115.9 L586.8 115.2 L587.6 115.0 L588.4 116.1 L589.2 116.7 L590.0 116.4 L590.8 116.0 L591.6 117.8 L592.4 117.5 L593.2 116.8 L594.0 118.7 L594.8 117.5 L595.6 118.7 L596.4 119.3 L597.2 118.7 L598.0 120.3 L598.8 122.9 L599.6 120.9 L600.4 122.7 L601.2 124.0 L602.0 121.9 L602.8 123.8 L603.6 123.4 L604.4 125.2 L605.2 123.5 L606.0 124.0 L606.8 124.8 L607.6 126.0 L608.4 127.1 L609.2 127.9 L610.0 129.1 L610.8 129.7 L611.6 130.2 L612.4 129.6 L613.2 131.8 L614.0 134.4 L614.8 134.5 L615.6 134.3 L616.4 134.4 L617.2 135.5 L618.0 134.9 L618.8 137.2 L619.6 135.3 L620.4 136.6 L621.2 139.5 L622.0 137.1 L622.8 140.4 L623.6 139.3 L624.4 140.5 L625.2 142.3 L626.0 142.7 L626.8 143.3 L627.6 144.2 L628.4 145.5 L629.2 146.0 L630.0 148.1 L630.8 147.6 L631.6 149.9 L632.4 149.5 L633.2 152.0 L634.0 152.9 L634.8 153.4 L635.6 155.2 L636.4 155.4 L637.2 154.1 L638.0 156.6 L638.8 154.6 L639.6 157.7 L640.4 158.8 L641.2 159.6 L642.0 161.9 L642.8 162.6 L643.6 165.3 L644.4 164.9 L645.2 167.9 L646.0 168.6 L646.8 168.4 L647.6 169.0 L648.4 171.9 L649.2 171.8 L650.0 173.7 L650.8 174.7 L651.6 175.0 L652.4 176.8 L653.2 177.0 L654.0 177.8 L654.8 179.9 L655.6 182.8 L656.4 183.7 L657.2 183.7 L658.0 185.1 L658.8 187.1 L659.6 189.7 L660.4 190.1 L661.2 190.2 L662.0 191.4 L662.8 192.9 L663.6 195.1 L664.4 194.9 L665.2 195.4 L666.0 199.3 L666.8 200.3 L667.6 201.5 L668.4 203.1 L669.2 204.0 L670.0 204.5 L670.8 206.0 L671.6 209.2 L672.4 210.1 L673.2 212.6 L674.0 212.8 L674.8 215.1 L675.6 215.8 L676.4 218.4 L677.2 219.4 L678.0 222.1 L678.8 224.3 L679.6 225.1 L680.4 227.0 L681.2 231.1 L682.0 230.7 L682.8 232.4 L683.6 233.0 L684.4 235.0 L685.2 237.4 L686.0 238.7 L686.8 240.7 L687.6 241.4 L688.4 243.1 L689.2 246.2 L690.0 248.6 L690.8 250.5 L691.6 253.2 L692.4 254.1 L693.2 255.5 L694.0 256.0 L694.8 259.3 L695.6 261.4 L696.4 262.6 L697.2 265.8 L698.0 267.3 L698.8 268.4 L699.6 267.9 L700.4 270.3 L701.2 273.4 L702.0 276.5 L702.8 276.2 L703.6 278.9 L704.4 279.3 L705.2 282.6 L706.0 285.5 L706.8 285.3 L707.6 287.4 L708.4 292.1 L709.2 294.2 L710.0 295.4 L710.8 298.5 L711.6 301.0 L712.4 300.7 L713.2 303.9 L714.0 306.5 L714.8 306.4 L715.6 308.3 L716.4 311.5 L717.2 312.6 L718.0 314.1 L718.8 316.6 L719.6 318.2 L720.4 321.9 L721.2 322.1 L722.0 325.8 L722.8 326.1 L723.6 329.6 L724.4 330.4 L725.2 333.9 L726.0 336.8 L726.8 339.0 L727.6 341.1 L728.4 341.8 L729.2 343.1 L730.0 345.0 L730.8 347.2 L731.6 348.4 L732.4 352.9 L733.2 353.6 L734.0 356.4 L734.8 358.4 L735.6 360.1 L736.4 362.0 L737.2 363.9 L738.0 364.5 L738.8 367.2 L739.6 368.9 L740.4 372.7 L741.2 373.4 L742.0 378.9 L742.8 378.4 L743.6 380.9 L744.4 382.7 L745.2 381.6 L746.0 385.3 L746.8 388.6 L747.6 387.5 L748.4 391.9 L749.2 392.1 L750.0 394.7 L750.8 397.3 L751.6 397.7 L752.4 401.8 L753.2 402.6 L754.0 405.1 L754.8 408.1 L755.6 413.0 L756.4 412.5 L757.2 414.1 L758.0 416.0 L758.8 416.7 L759.6 420.1 L760.4 423.2 L761.2 424.1 L762.0 426.4 L762.8 427.8 L763.6 432.2 L764.4 430.9 L765.2 434.8 L766.0 436.1 L766.8 437.3 L767.6 438.4 L768.4 440.1 L769.2 442.6 L770.0 444.4 L770.8 445.2 L771.6 448.1 L772.4 451.2 L773.2 453.8 L774.0 454.3 L774.8 455.3 L775.6 456.7 L776.4 461.2 L777.2 461.0 L778.0 462.2 L778.8 465.6 L779.6 468.0 L780.4 467.9 L781.2 467.5 L782.0 469.7 L782.8 471.5 L783.6 473.6 L784.4 474.2 L785.2 476.5 L786.0 476.7 L786.8 478.8 L787.6 480.0 L788.4 479.9 L789.2 481.3 L790.0 484.9 L790.8 486.7 L791.6 487.6 L792.4 487.6 L793.2 485.1 L794.0 488.9 L794.8 490.3 L795.6 492.5 L796.4 492.8 L797.2 494.5 L798.0 495.0 L798.8 499.2 L799.6 499.7 L800.4 500.4 L801.2 502.0 L802.0 503.1 L802.8 504.8 L803.6 506.7 L804.4 509.2 L805.2 511.9 L806.0 513.1 L806.8 513.8 L807.6 516.9 L808.4 517.4 L809.2 517.6 L810.0 518.7 L810.8 520.1 L811.6 522.3 L812.4 525.1 L813.2 527.1 L814.0 528.2 L814.8 530.2 L815.6 532.8 L816.4 534.7 L817.2 533.9 L818.0 535.1 L818.8 536.6 L819.2 536.7 L819.2 527.0 L819.2 542.0 L819.2 536.0" stroke="#D87F34"/>
</g>
<line x1="491.8" y1="314.8" x2="531.8" y2="314.8" stroke="#3E6DA8" stroke-width="4.1" stroke-linecap="round"/>
<line x1="491.8" y1="368.8" x2="531.8" y2="368.8" stroke="#A8403E" stroke-width="4.1" stroke-linecap="round"/>
<line x1="491.8" y1="422.8" x2="531.8" y2="422.8" stroke="#86A34A" stroke-width="4.1" stroke-linecap="round"/>
<line x1="491.8" y1="476.9" x2="531.8" y2="476.9" stroke="#6B518A" stroke-width="4.1" stroke-linecap="round"/>
<line x1="491.8" y1="531.1" x2="531.8" y2="531.1" stroke="#3A93AE" stroke-width="4.1" stroke-linecap="round"/>
<line x1="491.8" y1="584.9" x2="531.8" y2="584.9" stroke="#D87F34" stroke-width="4.1" stroke-linecap="round"/>
<g class="t">
<g font-size="19.5" class="ax">
<text x="78.42" y="88.80" textLength="37.38" lengthAdjust="spacingAndGlyphs">0.85</text>
<text x="89.13" y="145.88" textLength="26.70" lengthAdjust="spacingAndGlyphs">0.8</text>
<text x="78.42" y="202.96" textLength="37.38" lengthAdjust="spacingAndGlyphs">0.75</text>
<text x="89.26" y="260.04" textLength="26.70" lengthAdjust="spacingAndGlyphs">0.7</text>
<text x="78.42" y="317.12" textLength="37.38" lengthAdjust="spacingAndGlyphs">0.65</text>
<text x="89.14" y="374.20" textLength="26.70" lengthAdjust="spacingAndGlyphs">0.6</text>
<text x="78.42" y="431.28" textLength="37.38" lengthAdjust="spacingAndGlyphs">0.55</text>
<text x="89.11" y="488.36" textLength="26.70" lengthAdjust="spacingAndGlyphs">0.5</text>
<text x="78.42" y="545.44" textLength="37.38" lengthAdjust="spacingAndGlyphs">0.45</text>
<text x="88.86" y="602.52" textLength="26.70" lengthAdjust="spacingAndGlyphs">0.4</text>
<text x="78.42" y="659.60" textLength="37.38" lengthAdjust="spacingAndGlyphs">0.35</text>
<text x="119.64" y="691.4" textLength="31.40" lengthAdjust="spacingAndGlyphs">345</text>
<text x="205.13" y="691.4" textLength="31.40" lengthAdjust="spacingAndGlyphs">355</text>
<text x="290.61" y="691.4" textLength="31.40" lengthAdjust="spacingAndGlyphs">365</text>
<text x="376.10" y="691.4" textLength="31.40" lengthAdjust="spacingAndGlyphs">375</text>
<text x="461.59" y="691.4" textLength="31.40" lengthAdjust="spacingAndGlyphs">385</text>
<text x="547.08" y="691.4" textLength="31.40" lengthAdjust="spacingAndGlyphs">395</text>
<text x="632.71" y="691.4" textLength="31.40" lengthAdjust="spacingAndGlyphs">405</text>
<text x="718.19" y="691.4" textLength="31.40" lengthAdjust="spacingAndGlyphs">415</text>
<text x="803.68" y="691.4" textLength="31.40" lengthAdjust="spacingAndGlyphs">425</text>
</g>
<g font-size="19.5" class="lg">
<text x="535.65" y="324.0" textLength="48.82" lengthAdjust="spacingAndGlyphs">heme</text>
<text x="536.04" y="377.8" textLength="60.00" lengthAdjust="spacingAndGlyphs">6-5 pre</text>
<text x="536.18" y="431.5" textLength="70.26" lengthAdjust="spacingAndGlyphs">8-12 pre</text>
<text x="535.67" y="486.2" textLength="65.52" lengthAdjust="spacingAndGlyphs">mixture</text>
<text x="535.69" y="539.8" textLength="81.09" lengthAdjust="spacingAndGlyphs">mixture 4</text>
<text x="537.03" y="564.6" textLength="61.12" lengthAdjust="spacingAndGlyphs">washes</text>
<text x="535.69" y="593.4" textLength="91.78" lengthAdjust="spacingAndGlyphs">mixture 24</text>
<text x="537.03" y="618.2" textLength="61.12" lengthAdjust="spacingAndGlyphs">washes</text>
</g>
<text class="ttl" x="209.56" y="54.8" font-size="34" font-weight="bold" textLength="136.24" lengthAdjust="spacingAndGlyphs">Aptamer</text>
<text class="ttl" x="355.18" y="54.8" font-size="34" font-weight="bold" textLength="118.15" lengthAdjust="spacingAndGlyphs">Binding</text>
<text class="ttl" x="480.91" y="54.8" font-size="34" font-weight="bold" textLength="200.38" lengthAdjust="spacingAndGlyphs">Absorbances</text>
<text x="427.15" y="731.8" font-size="20" font-weight="bold" textLength="143.55" lengthAdjust="spacingAndGlyphs">wavelength (nm)</text>
<text transform="translate(59.6,414.1) rotate(-90)" x="-0.52" y="0" font-size="20" font-weight="bold" textLength="99.02" lengthAdjust="spacingAndGlyphs">absorbance</text>

</g>
</svg>
</body></html>
